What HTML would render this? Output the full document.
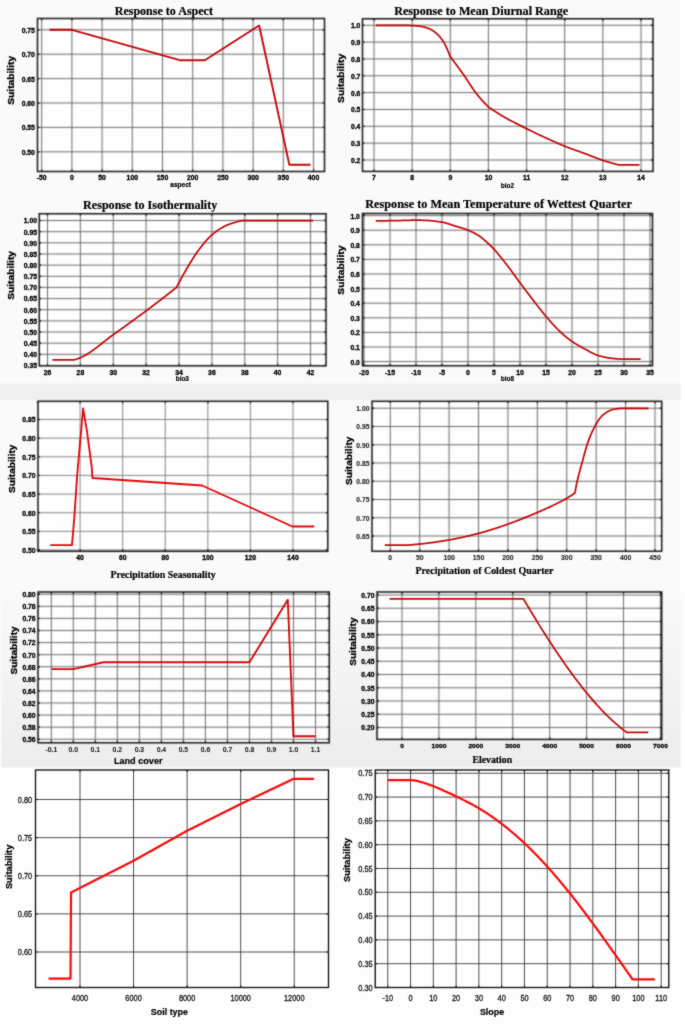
<!DOCTYPE html>
<html><head><meta charset="utf-8"><title>Response curves</title>
<style>html,body{margin:0;padding:0;background:#fafafa;} body{width:685px;height:1024px;overflow:hidden;} svg{display:block;}</style>
</head><body><div id="w">
<svg width="685" height="1024" viewBox="0 0 685 1024">
<defs><filter id="bl" x="0" y="0" width="685" height="1024" filterUnits="userSpaceOnUse" color-interpolation-filters="sRGB"><feConvolveMatrix order="3" kernelMatrix="1 2 1 2 8 2 1 2 1" divisor="20" edgeMode="duplicate"/></filter><filter id="bl2" x="0" y="0" width="685" height="1024" filterUnits="userSpaceOnUse" color-interpolation-filters="sRGB"><feConvolveMatrix order="3" kernelMatrix="1 2 1 2 20 2 1 2 1" divisor="32" edgeMode="duplicate"/></filter></defs>
<g filter="url(#bl)">
<rect x="0" y="0" width="685" height="1024" fill="#fafafa"/>
<rect x="680.5" y="0" width="5" height="1024" fill="#fdfdfd"/>
<rect x="0" y="0" width="1.5" height="767" fill="#fbfbfb"/>
<rect x="0" y="383.5" width="680.5" height="16.5" fill="#f0f0f0"/>
<linearGradient id="g4" x1="0" y1="0" x2="0" y2="1"><stop offset="0" stop-color="#fafafa"/><stop offset="0.45" stop-color="#f4f4f4"/><stop offset="1" stop-color="#ededed"/></linearGradient>
<rect x="1.5" y="582" width="679" height="185.5" fill="url(#g4)"/>
<rect x="0" y="767.5" width="685" height="256.5" fill="#fdfdfd"/>
<rect x="37.50" y="18.50" width="287.00" height="153.00" fill="#fefefe"/>
<line x1="41.70" y1="18.50" x2="41.70" y2="171.50" stroke="#6a6a6a" stroke-width="1.0"/>
<line x1="71.90" y1="18.50" x2="71.90" y2="171.50" stroke="#6a6a6a" stroke-width="1.0"/>
<line x1="102.10" y1="18.50" x2="102.10" y2="171.50" stroke="#6a6a6a" stroke-width="1.0"/>
<line x1="132.30" y1="18.50" x2="132.30" y2="171.50" stroke="#6a6a6a" stroke-width="1.0"/>
<line x1="162.50" y1="18.50" x2="162.50" y2="171.50" stroke="#6a6a6a" stroke-width="1.0"/>
<line x1="192.70" y1="18.50" x2="192.70" y2="171.50" stroke="#6a6a6a" stroke-width="1.0"/>
<line x1="222.90" y1="18.50" x2="222.90" y2="171.50" stroke="#6a6a6a" stroke-width="1.0"/>
<line x1="253.10" y1="18.50" x2="253.10" y2="171.50" stroke="#6a6a6a" stroke-width="1.0"/>
<line x1="283.30" y1="18.50" x2="283.30" y2="171.50" stroke="#6a6a6a" stroke-width="1.0"/>
<line x1="313.50" y1="18.50" x2="313.50" y2="171.50" stroke="#6a6a6a" stroke-width="1.0"/>
<line x1="37.50" y1="151.80" x2="324.50" y2="151.80" stroke="#6a6a6a" stroke-width="1.0"/>
<line x1="37.50" y1="127.40" x2="324.50" y2="127.40" stroke="#6a6a6a" stroke-width="1.0"/>
<line x1="37.50" y1="103.00" x2="324.50" y2="103.00" stroke="#6a6a6a" stroke-width="1.0"/>
<line x1="37.50" y1="78.60" x2="324.50" y2="78.60" stroke="#6a6a6a" stroke-width="1.0"/>
<line x1="37.50" y1="54.20" x2="324.50" y2="54.20" stroke="#6a6a6a" stroke-width="1.0"/>
<line x1="37.50" y1="29.80" x2="324.50" y2="29.80" stroke="#6a6a6a" stroke-width="1.0"/>
<rect x="37.50" y="18.50" width="287.00" height="153.00" fill="none" stroke="#141414" stroke-width="1.5"/>
<line x1="41.70" y1="171.50" x2="41.70" y2="169.50" stroke="#141414" stroke-width="1.3"/>
<line x1="41.70" y1="18.50" x2="41.70" y2="20.50" stroke="#141414" stroke-width="1.3"/>
<line x1="71.90" y1="171.50" x2="71.90" y2="169.50" stroke="#141414" stroke-width="1.3"/>
<line x1="71.90" y1="18.50" x2="71.90" y2="20.50" stroke="#141414" stroke-width="1.3"/>
<line x1="102.10" y1="171.50" x2="102.10" y2="169.50" stroke="#141414" stroke-width="1.3"/>
<line x1="102.10" y1="18.50" x2="102.10" y2="20.50" stroke="#141414" stroke-width="1.3"/>
<line x1="132.30" y1="171.50" x2="132.30" y2="169.50" stroke="#141414" stroke-width="1.3"/>
<line x1="132.30" y1="18.50" x2="132.30" y2="20.50" stroke="#141414" stroke-width="1.3"/>
<line x1="162.50" y1="171.50" x2="162.50" y2="169.50" stroke="#141414" stroke-width="1.3"/>
<line x1="162.50" y1="18.50" x2="162.50" y2="20.50" stroke="#141414" stroke-width="1.3"/>
<line x1="192.70" y1="171.50" x2="192.70" y2="169.50" stroke="#141414" stroke-width="1.3"/>
<line x1="192.70" y1="18.50" x2="192.70" y2="20.50" stroke="#141414" stroke-width="1.3"/>
<line x1="222.90" y1="171.50" x2="222.90" y2="169.50" stroke="#141414" stroke-width="1.3"/>
<line x1="222.90" y1="18.50" x2="222.90" y2="20.50" stroke="#141414" stroke-width="1.3"/>
<line x1="253.10" y1="171.50" x2="253.10" y2="169.50" stroke="#141414" stroke-width="1.3"/>
<line x1="253.10" y1="18.50" x2="253.10" y2="20.50" stroke="#141414" stroke-width="1.3"/>
<line x1="283.30" y1="171.50" x2="283.30" y2="169.50" stroke="#141414" stroke-width="1.3"/>
<line x1="283.30" y1="18.50" x2="283.30" y2="20.50" stroke="#141414" stroke-width="1.3"/>
<line x1="313.50" y1="171.50" x2="313.50" y2="169.50" stroke="#141414" stroke-width="1.3"/>
<line x1="313.50" y1="18.50" x2="313.50" y2="20.50" stroke="#141414" stroke-width="1.3"/>
<line x1="37.50" y1="151.80" x2="39.50" y2="151.80" stroke="#141414" stroke-width="1.3"/>
<line x1="324.50" y1="151.80" x2="322.50" y2="151.80" stroke="#141414" stroke-width="1.3"/>
<line x1="37.50" y1="127.40" x2="39.50" y2="127.40" stroke="#141414" stroke-width="1.3"/>
<line x1="324.50" y1="127.40" x2="322.50" y2="127.40" stroke="#141414" stroke-width="1.3"/>
<line x1="37.50" y1="103.00" x2="39.50" y2="103.00" stroke="#141414" stroke-width="1.3"/>
<line x1="324.50" y1="103.00" x2="322.50" y2="103.00" stroke="#141414" stroke-width="1.3"/>
<line x1="37.50" y1="78.60" x2="39.50" y2="78.60" stroke="#141414" stroke-width="1.3"/>
<line x1="324.50" y1="78.60" x2="322.50" y2="78.60" stroke="#141414" stroke-width="1.3"/>
<line x1="37.50" y1="54.20" x2="39.50" y2="54.20" stroke="#141414" stroke-width="1.3"/>
<line x1="324.50" y1="54.20" x2="322.50" y2="54.20" stroke="#141414" stroke-width="1.3"/>
<line x1="37.50" y1="29.80" x2="39.50" y2="29.80" stroke="#141414" stroke-width="1.3"/>
<line x1="324.50" y1="29.80" x2="322.50" y2="29.80" stroke="#141414" stroke-width="1.3"/>
<rect x="362.50" y="18.75" width="290.50" height="152.65" fill="#fefefe"/>
<line x1="374.00" y1="18.75" x2="374.00" y2="171.40" stroke="#6a6a6a" stroke-width="1.0"/>
<line x1="412.14" y1="18.75" x2="412.14" y2="171.40" stroke="#6a6a6a" stroke-width="1.0"/>
<line x1="450.29" y1="18.75" x2="450.29" y2="171.40" stroke="#6a6a6a" stroke-width="1.0"/>
<line x1="488.43" y1="18.75" x2="488.43" y2="171.40" stroke="#6a6a6a" stroke-width="1.0"/>
<line x1="526.57" y1="18.75" x2="526.57" y2="171.40" stroke="#6a6a6a" stroke-width="1.0"/>
<line x1="564.71" y1="18.75" x2="564.71" y2="171.40" stroke="#6a6a6a" stroke-width="1.0"/>
<line x1="602.86" y1="18.75" x2="602.86" y2="171.40" stroke="#6a6a6a" stroke-width="1.0"/>
<line x1="641.00" y1="18.75" x2="641.00" y2="171.40" stroke="#6a6a6a" stroke-width="1.0"/>
<line x1="362.50" y1="160.00" x2="653.00" y2="160.00" stroke="#6a6a6a" stroke-width="1.0"/>
<line x1="362.50" y1="143.16" x2="653.00" y2="143.16" stroke="#6a6a6a" stroke-width="1.0"/>
<line x1="362.50" y1="126.31" x2="653.00" y2="126.31" stroke="#6a6a6a" stroke-width="1.0"/>
<line x1="362.50" y1="109.47" x2="653.00" y2="109.47" stroke="#6a6a6a" stroke-width="1.0"/>
<line x1="362.50" y1="92.62" x2="653.00" y2="92.62" stroke="#6a6a6a" stroke-width="1.0"/>
<line x1="362.50" y1="75.78" x2="653.00" y2="75.78" stroke="#6a6a6a" stroke-width="1.0"/>
<line x1="362.50" y1="58.94" x2="653.00" y2="58.94" stroke="#6a6a6a" stroke-width="1.0"/>
<line x1="362.50" y1="42.09" x2="653.00" y2="42.09" stroke="#6a6a6a" stroke-width="1.0"/>
<line x1="362.50" y1="25.25" x2="653.00" y2="25.25" stroke="#6a6a6a" stroke-width="1.0"/>
<rect x="362.50" y="18.75" width="290.50" height="152.65" fill="none" stroke="#141414" stroke-width="1.5"/>
<line x1="374.00" y1="171.40" x2="374.00" y2="169.40" stroke="#141414" stroke-width="1.3"/>
<line x1="374.00" y1="18.75" x2="374.00" y2="20.75" stroke="#141414" stroke-width="1.3"/>
<line x1="412.14" y1="171.40" x2="412.14" y2="169.40" stroke="#141414" stroke-width="1.3"/>
<line x1="412.14" y1="18.75" x2="412.14" y2="20.75" stroke="#141414" stroke-width="1.3"/>
<line x1="450.29" y1="171.40" x2="450.29" y2="169.40" stroke="#141414" stroke-width="1.3"/>
<line x1="450.29" y1="18.75" x2="450.29" y2="20.75" stroke="#141414" stroke-width="1.3"/>
<line x1="488.43" y1="171.40" x2="488.43" y2="169.40" stroke="#141414" stroke-width="1.3"/>
<line x1="488.43" y1="18.75" x2="488.43" y2="20.75" stroke="#141414" stroke-width="1.3"/>
<line x1="526.57" y1="171.40" x2="526.57" y2="169.40" stroke="#141414" stroke-width="1.3"/>
<line x1="526.57" y1="18.75" x2="526.57" y2="20.75" stroke="#141414" stroke-width="1.3"/>
<line x1="564.71" y1="171.40" x2="564.71" y2="169.40" stroke="#141414" stroke-width="1.3"/>
<line x1="564.71" y1="18.75" x2="564.71" y2="20.75" stroke="#141414" stroke-width="1.3"/>
<line x1="602.86" y1="171.40" x2="602.86" y2="169.40" stroke="#141414" stroke-width="1.3"/>
<line x1="602.86" y1="18.75" x2="602.86" y2="20.75" stroke="#141414" stroke-width="1.3"/>
<line x1="641.00" y1="171.40" x2="641.00" y2="169.40" stroke="#141414" stroke-width="1.3"/>
<line x1="641.00" y1="18.75" x2="641.00" y2="20.75" stroke="#141414" stroke-width="1.3"/>
<line x1="362.50" y1="160.00" x2="364.50" y2="160.00" stroke="#141414" stroke-width="1.3"/>
<line x1="653.00" y1="160.00" x2="651.00" y2="160.00" stroke="#141414" stroke-width="1.3"/>
<line x1="362.50" y1="143.16" x2="364.50" y2="143.16" stroke="#141414" stroke-width="1.3"/>
<line x1="653.00" y1="143.16" x2="651.00" y2="143.16" stroke="#141414" stroke-width="1.3"/>
<line x1="362.50" y1="126.31" x2="364.50" y2="126.31" stroke="#141414" stroke-width="1.3"/>
<line x1="653.00" y1="126.31" x2="651.00" y2="126.31" stroke="#141414" stroke-width="1.3"/>
<line x1="362.50" y1="109.47" x2="364.50" y2="109.47" stroke="#141414" stroke-width="1.3"/>
<line x1="653.00" y1="109.47" x2="651.00" y2="109.47" stroke="#141414" stroke-width="1.3"/>
<line x1="362.50" y1="92.62" x2="364.50" y2="92.62" stroke="#141414" stroke-width="1.3"/>
<line x1="653.00" y1="92.62" x2="651.00" y2="92.62" stroke="#141414" stroke-width="1.3"/>
<line x1="362.50" y1="75.78" x2="364.50" y2="75.78" stroke="#141414" stroke-width="1.3"/>
<line x1="653.00" y1="75.78" x2="651.00" y2="75.78" stroke="#141414" stroke-width="1.3"/>
<line x1="362.50" y1="58.94" x2="364.50" y2="58.94" stroke="#141414" stroke-width="1.3"/>
<line x1="653.00" y1="58.94" x2="651.00" y2="58.94" stroke="#141414" stroke-width="1.3"/>
<line x1="362.50" y1="42.09" x2="364.50" y2="42.09" stroke="#141414" stroke-width="1.3"/>
<line x1="653.00" y1="42.09" x2="651.00" y2="42.09" stroke="#141414" stroke-width="1.3"/>
<line x1="362.50" y1="25.25" x2="364.50" y2="25.25" stroke="#141414" stroke-width="1.3"/>
<line x1="653.00" y1="25.25" x2="651.00" y2="25.25" stroke="#141414" stroke-width="1.3"/>
<rect x="39.25" y="213.75" width="286.75" height="152.05" fill="#fefefe"/>
<line x1="47.50" y1="213.75" x2="47.50" y2="365.80" stroke="#6a6a6a" stroke-width="1.0"/>
<line x1="80.38" y1="213.75" x2="80.38" y2="365.80" stroke="#6a6a6a" stroke-width="1.0"/>
<line x1="113.25" y1="213.75" x2="113.25" y2="365.80" stroke="#6a6a6a" stroke-width="1.0"/>
<line x1="146.12" y1="213.75" x2="146.12" y2="365.80" stroke="#6a6a6a" stroke-width="1.0"/>
<line x1="179.00" y1="213.75" x2="179.00" y2="365.80" stroke="#6a6a6a" stroke-width="1.0"/>
<line x1="211.88" y1="213.75" x2="211.88" y2="365.80" stroke="#6a6a6a" stroke-width="1.0"/>
<line x1="244.75" y1="213.75" x2="244.75" y2="365.80" stroke="#6a6a6a" stroke-width="1.0"/>
<line x1="277.62" y1="213.75" x2="277.62" y2="365.80" stroke="#6a6a6a" stroke-width="1.0"/>
<line x1="310.50" y1="213.75" x2="310.50" y2="365.80" stroke="#6a6a6a" stroke-width="1.0"/>
<line x1="39.25" y1="354.35" x2="326.00" y2="354.35" stroke="#6a6a6a" stroke-width="1.0"/>
<line x1="39.25" y1="343.19" x2="326.00" y2="343.19" stroke="#6a6a6a" stroke-width="1.0"/>
<line x1="39.25" y1="332.04" x2="326.00" y2="332.04" stroke="#6a6a6a" stroke-width="1.0"/>
<line x1="39.25" y1="320.88" x2="326.00" y2="320.88" stroke="#6a6a6a" stroke-width="1.0"/>
<line x1="39.25" y1="309.73" x2="326.00" y2="309.73" stroke="#6a6a6a" stroke-width="1.0"/>
<line x1="39.25" y1="298.58" x2="326.00" y2="298.58" stroke="#6a6a6a" stroke-width="1.0"/>
<line x1="39.25" y1="287.42" x2="326.00" y2="287.42" stroke="#6a6a6a" stroke-width="1.0"/>
<line x1="39.25" y1="276.27" x2="326.00" y2="276.27" stroke="#6a6a6a" stroke-width="1.0"/>
<line x1="39.25" y1="265.12" x2="326.00" y2="265.12" stroke="#6a6a6a" stroke-width="1.0"/>
<line x1="39.25" y1="253.96" x2="326.00" y2="253.96" stroke="#6a6a6a" stroke-width="1.0"/>
<line x1="39.25" y1="242.81" x2="326.00" y2="242.81" stroke="#6a6a6a" stroke-width="1.0"/>
<line x1="39.25" y1="231.65" x2="326.00" y2="231.65" stroke="#6a6a6a" stroke-width="1.0"/>
<line x1="39.25" y1="220.50" x2="326.00" y2="220.50" stroke="#6a6a6a" stroke-width="1.0"/>
<rect x="39.25" y="213.75" width="286.75" height="152.05" fill="none" stroke="#141414" stroke-width="1.5"/>
<line x1="47.50" y1="365.80" x2="47.50" y2="363.80" stroke="#141414" stroke-width="1.3"/>
<line x1="47.50" y1="213.75" x2="47.50" y2="215.75" stroke="#141414" stroke-width="1.3"/>
<line x1="80.38" y1="365.80" x2="80.38" y2="363.80" stroke="#141414" stroke-width="1.3"/>
<line x1="80.38" y1="213.75" x2="80.38" y2="215.75" stroke="#141414" stroke-width="1.3"/>
<line x1="113.25" y1="365.80" x2="113.25" y2="363.80" stroke="#141414" stroke-width="1.3"/>
<line x1="113.25" y1="213.75" x2="113.25" y2="215.75" stroke="#141414" stroke-width="1.3"/>
<line x1="146.12" y1="365.80" x2="146.12" y2="363.80" stroke="#141414" stroke-width="1.3"/>
<line x1="146.12" y1="213.75" x2="146.12" y2="215.75" stroke="#141414" stroke-width="1.3"/>
<line x1="179.00" y1="365.80" x2="179.00" y2="363.80" stroke="#141414" stroke-width="1.3"/>
<line x1="179.00" y1="213.75" x2="179.00" y2="215.75" stroke="#141414" stroke-width="1.3"/>
<line x1="211.88" y1="365.80" x2="211.88" y2="363.80" stroke="#141414" stroke-width="1.3"/>
<line x1="211.88" y1="213.75" x2="211.88" y2="215.75" stroke="#141414" stroke-width="1.3"/>
<line x1="244.75" y1="365.80" x2="244.75" y2="363.80" stroke="#141414" stroke-width="1.3"/>
<line x1="244.75" y1="213.75" x2="244.75" y2="215.75" stroke="#141414" stroke-width="1.3"/>
<line x1="277.62" y1="365.80" x2="277.62" y2="363.80" stroke="#141414" stroke-width="1.3"/>
<line x1="277.62" y1="213.75" x2="277.62" y2="215.75" stroke="#141414" stroke-width="1.3"/>
<line x1="310.50" y1="365.80" x2="310.50" y2="363.80" stroke="#141414" stroke-width="1.3"/>
<line x1="310.50" y1="213.75" x2="310.50" y2="215.75" stroke="#141414" stroke-width="1.3"/>
<line x1="39.25" y1="365.50" x2="41.25" y2="365.50" stroke="#141414" stroke-width="1.3"/>
<line x1="326.00" y1="365.50" x2="324.00" y2="365.50" stroke="#141414" stroke-width="1.3"/>
<line x1="39.25" y1="354.35" x2="41.25" y2="354.35" stroke="#141414" stroke-width="1.3"/>
<line x1="326.00" y1="354.35" x2="324.00" y2="354.35" stroke="#141414" stroke-width="1.3"/>
<line x1="39.25" y1="343.19" x2="41.25" y2="343.19" stroke="#141414" stroke-width="1.3"/>
<line x1="326.00" y1="343.19" x2="324.00" y2="343.19" stroke="#141414" stroke-width="1.3"/>
<line x1="39.25" y1="332.04" x2="41.25" y2="332.04" stroke="#141414" stroke-width="1.3"/>
<line x1="326.00" y1="332.04" x2="324.00" y2="332.04" stroke="#141414" stroke-width="1.3"/>
<line x1="39.25" y1="320.88" x2="41.25" y2="320.88" stroke="#141414" stroke-width="1.3"/>
<line x1="326.00" y1="320.88" x2="324.00" y2="320.88" stroke="#141414" stroke-width="1.3"/>
<line x1="39.25" y1="309.73" x2="41.25" y2="309.73" stroke="#141414" stroke-width="1.3"/>
<line x1="326.00" y1="309.73" x2="324.00" y2="309.73" stroke="#141414" stroke-width="1.3"/>
<line x1="39.25" y1="298.58" x2="41.25" y2="298.58" stroke="#141414" stroke-width="1.3"/>
<line x1="326.00" y1="298.58" x2="324.00" y2="298.58" stroke="#141414" stroke-width="1.3"/>
<line x1="39.25" y1="287.42" x2="41.25" y2="287.42" stroke="#141414" stroke-width="1.3"/>
<line x1="326.00" y1="287.42" x2="324.00" y2="287.42" stroke="#141414" stroke-width="1.3"/>
<line x1="39.25" y1="276.27" x2="41.25" y2="276.27" stroke="#141414" stroke-width="1.3"/>
<line x1="326.00" y1="276.27" x2="324.00" y2="276.27" stroke="#141414" stroke-width="1.3"/>
<line x1="39.25" y1="265.12" x2="41.25" y2="265.12" stroke="#141414" stroke-width="1.3"/>
<line x1="326.00" y1="265.12" x2="324.00" y2="265.12" stroke="#141414" stroke-width="1.3"/>
<line x1="39.25" y1="253.96" x2="41.25" y2="253.96" stroke="#141414" stroke-width="1.3"/>
<line x1="326.00" y1="253.96" x2="324.00" y2="253.96" stroke="#141414" stroke-width="1.3"/>
<line x1="39.25" y1="242.81" x2="41.25" y2="242.81" stroke="#141414" stroke-width="1.3"/>
<line x1="326.00" y1="242.81" x2="324.00" y2="242.81" stroke="#141414" stroke-width="1.3"/>
<line x1="39.25" y1="231.65" x2="41.25" y2="231.65" stroke="#141414" stroke-width="1.3"/>
<line x1="326.00" y1="231.65" x2="324.00" y2="231.65" stroke="#141414" stroke-width="1.3"/>
<line x1="39.25" y1="220.50" x2="41.25" y2="220.50" stroke="#141414" stroke-width="1.3"/>
<line x1="326.00" y1="220.50" x2="324.00" y2="220.50" stroke="#141414" stroke-width="1.3"/>
<rect x="362.50" y="213.50" width="290.00" height="152.25" fill="#fefefe"/>
<line x1="364.00" y1="213.50" x2="364.00" y2="365.75" stroke="#6a6a6a" stroke-width="1.0"/>
<line x1="390.00" y1="213.50" x2="390.00" y2="365.75" stroke="#6a6a6a" stroke-width="1.0"/>
<line x1="416.00" y1="213.50" x2="416.00" y2="365.75" stroke="#6a6a6a" stroke-width="1.0"/>
<line x1="442.00" y1="213.50" x2="442.00" y2="365.75" stroke="#6a6a6a" stroke-width="1.0"/>
<line x1="468.00" y1="213.50" x2="468.00" y2="365.75" stroke="#6a6a6a" stroke-width="1.0"/>
<line x1="494.00" y1="213.50" x2="494.00" y2="365.75" stroke="#6a6a6a" stroke-width="1.0"/>
<line x1="520.00" y1="213.50" x2="520.00" y2="365.75" stroke="#6a6a6a" stroke-width="1.0"/>
<line x1="546.00" y1="213.50" x2="546.00" y2="365.75" stroke="#6a6a6a" stroke-width="1.0"/>
<line x1="572.00" y1="213.50" x2="572.00" y2="365.75" stroke="#6a6a6a" stroke-width="1.0"/>
<line x1="598.00" y1="213.50" x2="598.00" y2="365.75" stroke="#6a6a6a" stroke-width="1.0"/>
<line x1="624.00" y1="213.50" x2="624.00" y2="365.75" stroke="#6a6a6a" stroke-width="1.0"/>
<line x1="650.00" y1="213.50" x2="650.00" y2="365.75" stroke="#6a6a6a" stroke-width="1.0"/>
<line x1="362.50" y1="361.60" x2="652.50" y2="361.60" stroke="#6a6a6a" stroke-width="1.0"/>
<line x1="362.50" y1="347.00" x2="652.50" y2="347.00" stroke="#6a6a6a" stroke-width="1.0"/>
<line x1="362.50" y1="332.40" x2="652.50" y2="332.40" stroke="#6a6a6a" stroke-width="1.0"/>
<line x1="362.50" y1="317.80" x2="652.50" y2="317.80" stroke="#6a6a6a" stroke-width="1.0"/>
<line x1="362.50" y1="303.20" x2="652.50" y2="303.20" stroke="#6a6a6a" stroke-width="1.0"/>
<line x1="362.50" y1="288.60" x2="652.50" y2="288.60" stroke="#6a6a6a" stroke-width="1.0"/>
<line x1="362.50" y1="274.00" x2="652.50" y2="274.00" stroke="#6a6a6a" stroke-width="1.0"/>
<line x1="362.50" y1="259.40" x2="652.50" y2="259.40" stroke="#6a6a6a" stroke-width="1.0"/>
<line x1="362.50" y1="244.80" x2="652.50" y2="244.80" stroke="#6a6a6a" stroke-width="1.0"/>
<line x1="362.50" y1="230.20" x2="652.50" y2="230.20" stroke="#6a6a6a" stroke-width="1.0"/>
<line x1="362.50" y1="215.60" x2="652.50" y2="215.60" stroke="#6a6a6a" stroke-width="1.0"/>
<rect x="362.50" y="213.50" width="290.00" height="152.25" fill="none" stroke="#141414" stroke-width="1.5"/>
<line x1="364.00" y1="365.75" x2="364.00" y2="363.75" stroke="#141414" stroke-width="1.3"/>
<line x1="364.00" y1="213.50" x2="364.00" y2="215.50" stroke="#141414" stroke-width="1.3"/>
<line x1="390.00" y1="365.75" x2="390.00" y2="363.75" stroke="#141414" stroke-width="1.3"/>
<line x1="390.00" y1="213.50" x2="390.00" y2="215.50" stroke="#141414" stroke-width="1.3"/>
<line x1="416.00" y1="365.75" x2="416.00" y2="363.75" stroke="#141414" stroke-width="1.3"/>
<line x1="416.00" y1="213.50" x2="416.00" y2="215.50" stroke="#141414" stroke-width="1.3"/>
<line x1="442.00" y1="365.75" x2="442.00" y2="363.75" stroke="#141414" stroke-width="1.3"/>
<line x1="442.00" y1="213.50" x2="442.00" y2="215.50" stroke="#141414" stroke-width="1.3"/>
<line x1="468.00" y1="365.75" x2="468.00" y2="363.75" stroke="#141414" stroke-width="1.3"/>
<line x1="468.00" y1="213.50" x2="468.00" y2="215.50" stroke="#141414" stroke-width="1.3"/>
<line x1="494.00" y1="365.75" x2="494.00" y2="363.75" stroke="#141414" stroke-width="1.3"/>
<line x1="494.00" y1="213.50" x2="494.00" y2="215.50" stroke="#141414" stroke-width="1.3"/>
<line x1="520.00" y1="365.75" x2="520.00" y2="363.75" stroke="#141414" stroke-width="1.3"/>
<line x1="520.00" y1="213.50" x2="520.00" y2="215.50" stroke="#141414" stroke-width="1.3"/>
<line x1="546.00" y1="365.75" x2="546.00" y2="363.75" stroke="#141414" stroke-width="1.3"/>
<line x1="546.00" y1="213.50" x2="546.00" y2="215.50" stroke="#141414" stroke-width="1.3"/>
<line x1="572.00" y1="365.75" x2="572.00" y2="363.75" stroke="#141414" stroke-width="1.3"/>
<line x1="572.00" y1="213.50" x2="572.00" y2="215.50" stroke="#141414" stroke-width="1.3"/>
<line x1="598.00" y1="365.75" x2="598.00" y2="363.75" stroke="#141414" stroke-width="1.3"/>
<line x1="598.00" y1="213.50" x2="598.00" y2="215.50" stroke="#141414" stroke-width="1.3"/>
<line x1="624.00" y1="365.75" x2="624.00" y2="363.75" stroke="#141414" stroke-width="1.3"/>
<line x1="624.00" y1="213.50" x2="624.00" y2="215.50" stroke="#141414" stroke-width="1.3"/>
<line x1="650.00" y1="365.75" x2="650.00" y2="363.75" stroke="#141414" stroke-width="1.3"/>
<line x1="650.00" y1="213.50" x2="650.00" y2="215.50" stroke="#141414" stroke-width="1.3"/>
<line x1="362.50" y1="361.60" x2="364.50" y2="361.60" stroke="#141414" stroke-width="1.3"/>
<line x1="652.50" y1="361.60" x2="650.50" y2="361.60" stroke="#141414" stroke-width="1.3"/>
<line x1="362.50" y1="347.00" x2="364.50" y2="347.00" stroke="#141414" stroke-width="1.3"/>
<line x1="652.50" y1="347.00" x2="650.50" y2="347.00" stroke="#141414" stroke-width="1.3"/>
<line x1="362.50" y1="332.40" x2="364.50" y2="332.40" stroke="#141414" stroke-width="1.3"/>
<line x1="652.50" y1="332.40" x2="650.50" y2="332.40" stroke="#141414" stroke-width="1.3"/>
<line x1="362.50" y1="317.80" x2="364.50" y2="317.80" stroke="#141414" stroke-width="1.3"/>
<line x1="652.50" y1="317.80" x2="650.50" y2="317.80" stroke="#141414" stroke-width="1.3"/>
<line x1="362.50" y1="303.20" x2="364.50" y2="303.20" stroke="#141414" stroke-width="1.3"/>
<line x1="652.50" y1="303.20" x2="650.50" y2="303.20" stroke="#141414" stroke-width="1.3"/>
<line x1="362.50" y1="288.60" x2="364.50" y2="288.60" stroke="#141414" stroke-width="1.3"/>
<line x1="652.50" y1="288.60" x2="650.50" y2="288.60" stroke="#141414" stroke-width="1.3"/>
<line x1="362.50" y1="274.00" x2="364.50" y2="274.00" stroke="#141414" stroke-width="1.3"/>
<line x1="652.50" y1="274.00" x2="650.50" y2="274.00" stroke="#141414" stroke-width="1.3"/>
<line x1="362.50" y1="259.40" x2="364.50" y2="259.40" stroke="#141414" stroke-width="1.3"/>
<line x1="652.50" y1="259.40" x2="650.50" y2="259.40" stroke="#141414" stroke-width="1.3"/>
<line x1="362.50" y1="244.80" x2="364.50" y2="244.80" stroke="#141414" stroke-width="1.3"/>
<line x1="652.50" y1="244.80" x2="650.50" y2="244.80" stroke="#141414" stroke-width="1.3"/>
<line x1="362.50" y1="230.20" x2="364.50" y2="230.20" stroke="#141414" stroke-width="1.3"/>
<line x1="652.50" y1="230.20" x2="650.50" y2="230.20" stroke="#141414" stroke-width="1.3"/>
<line x1="362.50" y1="215.60" x2="364.50" y2="215.60" stroke="#141414" stroke-width="1.3"/>
<line x1="652.50" y1="215.60" x2="650.50" y2="215.60" stroke="#141414" stroke-width="1.3"/>
<rect x="38.00" y="401.30" width="289.75" height="150.00" fill="#fefefe"/>
<line x1="80.10" y1="401.30" x2="80.10" y2="551.30" stroke="#858585" stroke-width="1.0"/>
<line x1="122.68" y1="401.30" x2="122.68" y2="551.30" stroke="#858585" stroke-width="1.0"/>
<line x1="165.26" y1="401.30" x2="165.26" y2="551.30" stroke="#858585" stroke-width="1.0"/>
<line x1="207.84" y1="401.30" x2="207.84" y2="551.30" stroke="#858585" stroke-width="1.0"/>
<line x1="250.42" y1="401.30" x2="250.42" y2="551.30" stroke="#858585" stroke-width="1.0"/>
<line x1="293.00" y1="401.30" x2="293.00" y2="551.30" stroke="#858585" stroke-width="1.0"/>
<line x1="38.00" y1="550.00" x2="327.75" y2="550.00" stroke="#858585" stroke-width="1.0"/>
<line x1="38.00" y1="531.36" x2="327.75" y2="531.36" stroke="#858585" stroke-width="1.0"/>
<line x1="38.00" y1="512.71" x2="327.75" y2="512.71" stroke="#858585" stroke-width="1.0"/>
<line x1="38.00" y1="494.07" x2="327.75" y2="494.07" stroke="#858585" stroke-width="1.0"/>
<line x1="38.00" y1="475.43" x2="327.75" y2="475.43" stroke="#858585" stroke-width="1.0"/>
<line x1="38.00" y1="456.79" x2="327.75" y2="456.79" stroke="#858585" stroke-width="1.0"/>
<line x1="38.00" y1="438.14" x2="327.75" y2="438.14" stroke="#858585" stroke-width="1.0"/>
<line x1="38.00" y1="419.50" x2="327.75" y2="419.50" stroke="#858585" stroke-width="1.0"/>
<rect x="38.00" y="401.30" width="289.75" height="150.00" fill="none" stroke="#141414" stroke-width="1.5"/>
<line x1="37.52" y1="551.30" x2="37.52" y2="549.30" stroke="#141414" stroke-width="1.3"/>
<line x1="37.52" y1="401.30" x2="37.52" y2="403.30" stroke="#141414" stroke-width="1.3"/>
<line x1="80.10" y1="551.30" x2="80.10" y2="549.30" stroke="#141414" stroke-width="1.3"/>
<line x1="80.10" y1="401.30" x2="80.10" y2="403.30" stroke="#141414" stroke-width="1.3"/>
<line x1="122.68" y1="551.30" x2="122.68" y2="549.30" stroke="#141414" stroke-width="1.3"/>
<line x1="122.68" y1="401.30" x2="122.68" y2="403.30" stroke="#141414" stroke-width="1.3"/>
<line x1="165.26" y1="551.30" x2="165.26" y2="549.30" stroke="#141414" stroke-width="1.3"/>
<line x1="165.26" y1="401.30" x2="165.26" y2="403.30" stroke="#141414" stroke-width="1.3"/>
<line x1="207.84" y1="551.30" x2="207.84" y2="549.30" stroke="#141414" stroke-width="1.3"/>
<line x1="207.84" y1="401.30" x2="207.84" y2="403.30" stroke="#141414" stroke-width="1.3"/>
<line x1="250.42" y1="551.30" x2="250.42" y2="549.30" stroke="#141414" stroke-width="1.3"/>
<line x1="250.42" y1="401.30" x2="250.42" y2="403.30" stroke="#141414" stroke-width="1.3"/>
<line x1="293.00" y1="551.30" x2="293.00" y2="549.30" stroke="#141414" stroke-width="1.3"/>
<line x1="293.00" y1="401.30" x2="293.00" y2="403.30" stroke="#141414" stroke-width="1.3"/>
<line x1="38.00" y1="550.00" x2="40.00" y2="550.00" stroke="#141414" stroke-width="1.3"/>
<line x1="327.75" y1="550.00" x2="325.75" y2="550.00" stroke="#141414" stroke-width="1.3"/>
<line x1="38.00" y1="531.36" x2="40.00" y2="531.36" stroke="#141414" stroke-width="1.3"/>
<line x1="327.75" y1="531.36" x2="325.75" y2="531.36" stroke="#141414" stroke-width="1.3"/>
<line x1="38.00" y1="512.71" x2="40.00" y2="512.71" stroke="#141414" stroke-width="1.3"/>
<line x1="327.75" y1="512.71" x2="325.75" y2="512.71" stroke="#141414" stroke-width="1.3"/>
<line x1="38.00" y1="494.07" x2="40.00" y2="494.07" stroke="#141414" stroke-width="1.3"/>
<line x1="327.75" y1="494.07" x2="325.75" y2="494.07" stroke="#141414" stroke-width="1.3"/>
<line x1="38.00" y1="475.43" x2="40.00" y2="475.43" stroke="#141414" stroke-width="1.3"/>
<line x1="327.75" y1="475.43" x2="325.75" y2="475.43" stroke="#141414" stroke-width="1.3"/>
<line x1="38.00" y1="456.79" x2="40.00" y2="456.79" stroke="#141414" stroke-width="1.3"/>
<line x1="327.75" y1="456.79" x2="325.75" y2="456.79" stroke="#141414" stroke-width="1.3"/>
<line x1="38.00" y1="438.14" x2="40.00" y2="438.14" stroke="#141414" stroke-width="1.3"/>
<line x1="327.75" y1="438.14" x2="325.75" y2="438.14" stroke="#141414" stroke-width="1.3"/>
<line x1="38.00" y1="419.50" x2="40.00" y2="419.50" stroke="#141414" stroke-width="1.3"/>
<line x1="327.75" y1="419.50" x2="325.75" y2="419.50" stroke="#141414" stroke-width="1.3"/>
<rect x="372.00" y="401.30" width="289.70" height="149.95" fill="#fefefe"/>
<line x1="390.25" y1="401.30" x2="390.25" y2="551.25" stroke="#6a6a6a" stroke-width="1.0"/>
<line x1="419.67" y1="401.30" x2="419.67" y2="551.25" stroke="#6a6a6a" stroke-width="1.0"/>
<line x1="449.08" y1="401.30" x2="449.08" y2="551.25" stroke="#6a6a6a" stroke-width="1.0"/>
<line x1="478.50" y1="401.30" x2="478.50" y2="551.25" stroke="#6a6a6a" stroke-width="1.0"/>
<line x1="507.92" y1="401.30" x2="507.92" y2="551.25" stroke="#6a6a6a" stroke-width="1.0"/>
<line x1="537.33" y1="401.30" x2="537.33" y2="551.25" stroke="#6a6a6a" stroke-width="1.0"/>
<line x1="566.75" y1="401.30" x2="566.75" y2="551.25" stroke="#6a6a6a" stroke-width="1.0"/>
<line x1="596.17" y1="401.30" x2="596.17" y2="551.25" stroke="#6a6a6a" stroke-width="1.0"/>
<line x1="625.58" y1="401.30" x2="625.58" y2="551.25" stroke="#6a6a6a" stroke-width="1.0"/>
<line x1="655.00" y1="401.30" x2="655.00" y2="551.25" stroke="#6a6a6a" stroke-width="1.0"/>
<line x1="372.00" y1="536.00" x2="661.70" y2="536.00" stroke="#6a6a6a" stroke-width="1.0"/>
<line x1="372.00" y1="517.75" x2="661.70" y2="517.75" stroke="#6a6a6a" stroke-width="1.0"/>
<line x1="372.00" y1="499.50" x2="661.70" y2="499.50" stroke="#6a6a6a" stroke-width="1.0"/>
<line x1="372.00" y1="481.25" x2="661.70" y2="481.25" stroke="#6a6a6a" stroke-width="1.0"/>
<line x1="372.00" y1="463.00" x2="661.70" y2="463.00" stroke="#6a6a6a" stroke-width="1.0"/>
<line x1="372.00" y1="444.75" x2="661.70" y2="444.75" stroke="#6a6a6a" stroke-width="1.0"/>
<line x1="372.00" y1="426.50" x2="661.70" y2="426.50" stroke="#6a6a6a" stroke-width="1.0"/>
<line x1="372.00" y1="408.25" x2="661.70" y2="408.25" stroke="#6a6a6a" stroke-width="1.0"/>
<rect x="372.00" y="401.30" width="289.70" height="149.95" fill="none" stroke="#141414" stroke-width="1.5"/>
<line x1="390.25" y1="551.25" x2="390.25" y2="549.25" stroke="#141414" stroke-width="1.3"/>
<line x1="390.25" y1="401.30" x2="390.25" y2="403.30" stroke="#141414" stroke-width="1.3"/>
<line x1="419.67" y1="551.25" x2="419.67" y2="549.25" stroke="#141414" stroke-width="1.3"/>
<line x1="419.67" y1="401.30" x2="419.67" y2="403.30" stroke="#141414" stroke-width="1.3"/>
<line x1="449.08" y1="551.25" x2="449.08" y2="549.25" stroke="#141414" stroke-width="1.3"/>
<line x1="449.08" y1="401.30" x2="449.08" y2="403.30" stroke="#141414" stroke-width="1.3"/>
<line x1="478.50" y1="551.25" x2="478.50" y2="549.25" stroke="#141414" stroke-width="1.3"/>
<line x1="478.50" y1="401.30" x2="478.50" y2="403.30" stroke="#141414" stroke-width="1.3"/>
<line x1="507.92" y1="551.25" x2="507.92" y2="549.25" stroke="#141414" stroke-width="1.3"/>
<line x1="507.92" y1="401.30" x2="507.92" y2="403.30" stroke="#141414" stroke-width="1.3"/>
<line x1="537.33" y1="551.25" x2="537.33" y2="549.25" stroke="#141414" stroke-width="1.3"/>
<line x1="537.33" y1="401.30" x2="537.33" y2="403.30" stroke="#141414" stroke-width="1.3"/>
<line x1="566.75" y1="551.25" x2="566.75" y2="549.25" stroke="#141414" stroke-width="1.3"/>
<line x1="566.75" y1="401.30" x2="566.75" y2="403.30" stroke="#141414" stroke-width="1.3"/>
<line x1="596.17" y1="551.25" x2="596.17" y2="549.25" stroke="#141414" stroke-width="1.3"/>
<line x1="596.17" y1="401.30" x2="596.17" y2="403.30" stroke="#141414" stroke-width="1.3"/>
<line x1="625.58" y1="551.25" x2="625.58" y2="549.25" stroke="#141414" stroke-width="1.3"/>
<line x1="625.58" y1="401.30" x2="625.58" y2="403.30" stroke="#141414" stroke-width="1.3"/>
<line x1="655.00" y1="551.25" x2="655.00" y2="549.25" stroke="#141414" stroke-width="1.3"/>
<line x1="655.00" y1="401.30" x2="655.00" y2="403.30" stroke="#141414" stroke-width="1.3"/>
<line x1="372.00" y1="536.00" x2="374.00" y2="536.00" stroke="#141414" stroke-width="1.3"/>
<line x1="661.70" y1="536.00" x2="659.70" y2="536.00" stroke="#141414" stroke-width="1.3"/>
<line x1="372.00" y1="517.75" x2="374.00" y2="517.75" stroke="#141414" stroke-width="1.3"/>
<line x1="661.70" y1="517.75" x2="659.70" y2="517.75" stroke="#141414" stroke-width="1.3"/>
<line x1="372.00" y1="499.50" x2="374.00" y2="499.50" stroke="#141414" stroke-width="1.3"/>
<line x1="661.70" y1="499.50" x2="659.70" y2="499.50" stroke="#141414" stroke-width="1.3"/>
<line x1="372.00" y1="481.25" x2="374.00" y2="481.25" stroke="#141414" stroke-width="1.3"/>
<line x1="661.70" y1="481.25" x2="659.70" y2="481.25" stroke="#141414" stroke-width="1.3"/>
<line x1="372.00" y1="463.00" x2="374.00" y2="463.00" stroke="#141414" stroke-width="1.3"/>
<line x1="661.70" y1="463.00" x2="659.70" y2="463.00" stroke="#141414" stroke-width="1.3"/>
<line x1="372.00" y1="444.75" x2="374.00" y2="444.75" stroke="#141414" stroke-width="1.3"/>
<line x1="661.70" y1="444.75" x2="659.70" y2="444.75" stroke="#141414" stroke-width="1.3"/>
<line x1="372.00" y1="426.50" x2="374.00" y2="426.50" stroke="#141414" stroke-width="1.3"/>
<line x1="661.70" y1="426.50" x2="659.70" y2="426.50" stroke="#141414" stroke-width="1.3"/>
<line x1="372.00" y1="408.25" x2="374.00" y2="408.25" stroke="#141414" stroke-width="1.3"/>
<line x1="661.70" y1="408.25" x2="659.70" y2="408.25" stroke="#141414" stroke-width="1.3"/>
<rect x="38.00" y="592.00" width="291.25" height="150.75" fill="#fefefe"/>
<line x1="51.30" y1="592.00" x2="51.30" y2="742.75" stroke="#6a6a6a" stroke-width="1.0"/>
<line x1="73.32" y1="592.00" x2="73.32" y2="742.75" stroke="#6a6a6a" stroke-width="1.0"/>
<line x1="95.34" y1="592.00" x2="95.34" y2="742.75" stroke="#6a6a6a" stroke-width="1.0"/>
<line x1="117.35" y1="592.00" x2="117.35" y2="742.75" stroke="#6a6a6a" stroke-width="1.0"/>
<line x1="139.37" y1="592.00" x2="139.37" y2="742.75" stroke="#6a6a6a" stroke-width="1.0"/>
<line x1="161.39" y1="592.00" x2="161.39" y2="742.75" stroke="#6a6a6a" stroke-width="1.0"/>
<line x1="183.41" y1="592.00" x2="183.41" y2="742.75" stroke="#6a6a6a" stroke-width="1.0"/>
<line x1="205.43" y1="592.00" x2="205.43" y2="742.75" stroke="#6a6a6a" stroke-width="1.0"/>
<line x1="227.45" y1="592.00" x2="227.45" y2="742.75" stroke="#6a6a6a" stroke-width="1.0"/>
<line x1="249.46" y1="592.00" x2="249.46" y2="742.75" stroke="#6a6a6a" stroke-width="1.0"/>
<line x1="271.48" y1="592.00" x2="271.48" y2="742.75" stroke="#6a6a6a" stroke-width="1.0"/>
<line x1="293.50" y1="592.00" x2="293.50" y2="742.75" stroke="#6a6a6a" stroke-width="1.0"/>
<line x1="315.52" y1="592.00" x2="315.52" y2="742.75" stroke="#6a6a6a" stroke-width="1.0"/>
<line x1="38.00" y1="739.25" x2="329.25" y2="739.25" stroke="#6a6a6a" stroke-width="1.0"/>
<line x1="38.00" y1="727.17" x2="329.25" y2="727.17" stroke="#6a6a6a" stroke-width="1.0"/>
<line x1="38.00" y1="715.08" x2="329.25" y2="715.08" stroke="#6a6a6a" stroke-width="1.0"/>
<line x1="38.00" y1="703.00" x2="329.25" y2="703.00" stroke="#6a6a6a" stroke-width="1.0"/>
<line x1="38.00" y1="690.92" x2="329.25" y2="690.92" stroke="#6a6a6a" stroke-width="1.0"/>
<line x1="38.00" y1="678.83" x2="329.25" y2="678.83" stroke="#6a6a6a" stroke-width="1.0"/>
<line x1="38.00" y1="666.75" x2="329.25" y2="666.75" stroke="#6a6a6a" stroke-width="1.0"/>
<line x1="38.00" y1="654.67" x2="329.25" y2="654.67" stroke="#6a6a6a" stroke-width="1.0"/>
<line x1="38.00" y1="642.58" x2="329.25" y2="642.58" stroke="#6a6a6a" stroke-width="1.0"/>
<line x1="38.00" y1="630.50" x2="329.25" y2="630.50" stroke="#6a6a6a" stroke-width="1.0"/>
<line x1="38.00" y1="618.42" x2="329.25" y2="618.42" stroke="#6a6a6a" stroke-width="1.0"/>
<line x1="38.00" y1="606.33" x2="329.25" y2="606.33" stroke="#6a6a6a" stroke-width="1.0"/>
<line x1="38.00" y1="594.25" x2="329.25" y2="594.25" stroke="#6a6a6a" stroke-width="1.0"/>
<rect x="38.00" y="592.00" width="291.25" height="150.75" fill="none" stroke="#141414" stroke-width="1.5"/>
<line x1="51.30" y1="742.75" x2="51.30" y2="740.75" stroke="#141414" stroke-width="1.3"/>
<line x1="51.30" y1="592.00" x2="51.30" y2="594.00" stroke="#141414" stroke-width="1.3"/>
<line x1="73.32" y1="742.75" x2="73.32" y2="740.75" stroke="#141414" stroke-width="1.3"/>
<line x1="73.32" y1="592.00" x2="73.32" y2="594.00" stroke="#141414" stroke-width="1.3"/>
<line x1="95.34" y1="742.75" x2="95.34" y2="740.75" stroke="#141414" stroke-width="1.3"/>
<line x1="95.34" y1="592.00" x2="95.34" y2="594.00" stroke="#141414" stroke-width="1.3"/>
<line x1="117.35" y1="742.75" x2="117.35" y2="740.75" stroke="#141414" stroke-width="1.3"/>
<line x1="117.35" y1="592.00" x2="117.35" y2="594.00" stroke="#141414" stroke-width="1.3"/>
<line x1="139.37" y1="742.75" x2="139.37" y2="740.75" stroke="#141414" stroke-width="1.3"/>
<line x1="139.37" y1="592.00" x2="139.37" y2="594.00" stroke="#141414" stroke-width="1.3"/>
<line x1="161.39" y1="742.75" x2="161.39" y2="740.75" stroke="#141414" stroke-width="1.3"/>
<line x1="161.39" y1="592.00" x2="161.39" y2="594.00" stroke="#141414" stroke-width="1.3"/>
<line x1="183.41" y1="742.75" x2="183.41" y2="740.75" stroke="#141414" stroke-width="1.3"/>
<line x1="183.41" y1="592.00" x2="183.41" y2="594.00" stroke="#141414" stroke-width="1.3"/>
<line x1="205.43" y1="742.75" x2="205.43" y2="740.75" stroke="#141414" stroke-width="1.3"/>
<line x1="205.43" y1="592.00" x2="205.43" y2="594.00" stroke="#141414" stroke-width="1.3"/>
<line x1="227.45" y1="742.75" x2="227.45" y2="740.75" stroke="#141414" stroke-width="1.3"/>
<line x1="227.45" y1="592.00" x2="227.45" y2="594.00" stroke="#141414" stroke-width="1.3"/>
<line x1="249.46" y1="742.75" x2="249.46" y2="740.75" stroke="#141414" stroke-width="1.3"/>
<line x1="249.46" y1="592.00" x2="249.46" y2="594.00" stroke="#141414" stroke-width="1.3"/>
<line x1="271.48" y1="742.75" x2="271.48" y2="740.75" stroke="#141414" stroke-width="1.3"/>
<line x1="271.48" y1="592.00" x2="271.48" y2="594.00" stroke="#141414" stroke-width="1.3"/>
<line x1="293.50" y1="742.75" x2="293.50" y2="740.75" stroke="#141414" stroke-width="1.3"/>
<line x1="293.50" y1="592.00" x2="293.50" y2="594.00" stroke="#141414" stroke-width="1.3"/>
<line x1="315.52" y1="742.75" x2="315.52" y2="740.75" stroke="#141414" stroke-width="1.3"/>
<line x1="315.52" y1="592.00" x2="315.52" y2="594.00" stroke="#141414" stroke-width="1.3"/>
<line x1="38.00" y1="739.25" x2="40.00" y2="739.25" stroke="#141414" stroke-width="1.3"/>
<line x1="329.25" y1="739.25" x2="327.25" y2="739.25" stroke="#141414" stroke-width="1.3"/>
<line x1="38.00" y1="727.17" x2="40.00" y2="727.17" stroke="#141414" stroke-width="1.3"/>
<line x1="329.25" y1="727.17" x2="327.25" y2="727.17" stroke="#141414" stroke-width="1.3"/>
<line x1="38.00" y1="715.08" x2="40.00" y2="715.08" stroke="#141414" stroke-width="1.3"/>
<line x1="329.25" y1="715.08" x2="327.25" y2="715.08" stroke="#141414" stroke-width="1.3"/>
<line x1="38.00" y1="703.00" x2="40.00" y2="703.00" stroke="#141414" stroke-width="1.3"/>
<line x1="329.25" y1="703.00" x2="327.25" y2="703.00" stroke="#141414" stroke-width="1.3"/>
<line x1="38.00" y1="690.92" x2="40.00" y2="690.92" stroke="#141414" stroke-width="1.3"/>
<line x1="329.25" y1="690.92" x2="327.25" y2="690.92" stroke="#141414" stroke-width="1.3"/>
<line x1="38.00" y1="678.83" x2="40.00" y2="678.83" stroke="#141414" stroke-width="1.3"/>
<line x1="329.25" y1="678.83" x2="327.25" y2="678.83" stroke="#141414" stroke-width="1.3"/>
<line x1="38.00" y1="666.75" x2="40.00" y2="666.75" stroke="#141414" stroke-width="1.3"/>
<line x1="329.25" y1="666.75" x2="327.25" y2="666.75" stroke="#141414" stroke-width="1.3"/>
<line x1="38.00" y1="654.67" x2="40.00" y2="654.67" stroke="#141414" stroke-width="1.3"/>
<line x1="329.25" y1="654.67" x2="327.25" y2="654.67" stroke="#141414" stroke-width="1.3"/>
<line x1="38.00" y1="642.58" x2="40.00" y2="642.58" stroke="#141414" stroke-width="1.3"/>
<line x1="329.25" y1="642.58" x2="327.25" y2="642.58" stroke="#141414" stroke-width="1.3"/>
<line x1="38.00" y1="630.50" x2="40.00" y2="630.50" stroke="#141414" stroke-width="1.3"/>
<line x1="329.25" y1="630.50" x2="327.25" y2="630.50" stroke="#141414" stroke-width="1.3"/>
<line x1="38.00" y1="618.42" x2="40.00" y2="618.42" stroke="#141414" stroke-width="1.3"/>
<line x1="329.25" y1="618.42" x2="327.25" y2="618.42" stroke="#141414" stroke-width="1.3"/>
<line x1="38.00" y1="606.33" x2="40.00" y2="606.33" stroke="#141414" stroke-width="1.3"/>
<line x1="329.25" y1="606.33" x2="327.25" y2="606.33" stroke="#141414" stroke-width="1.3"/>
<line x1="38.00" y1="594.25" x2="40.00" y2="594.25" stroke="#141414" stroke-width="1.3"/>
<line x1="329.25" y1="594.25" x2="327.25" y2="594.25" stroke="#141414" stroke-width="1.3"/>
<rect x="377.00" y="592.00" width="284.70" height="147.40" fill="#fefefe"/>
<line x1="402.00" y1="592.00" x2="402.00" y2="739.40" stroke="#6a6a6a" stroke-width="1.0"/>
<line x1="438.92" y1="592.00" x2="438.92" y2="739.40" stroke="#6a6a6a" stroke-width="1.0"/>
<line x1="475.83" y1="592.00" x2="475.83" y2="739.40" stroke="#6a6a6a" stroke-width="1.0"/>
<line x1="512.75" y1="592.00" x2="512.75" y2="739.40" stroke="#6a6a6a" stroke-width="1.0"/>
<line x1="549.67" y1="592.00" x2="549.67" y2="739.40" stroke="#6a6a6a" stroke-width="1.0"/>
<line x1="586.58" y1="592.00" x2="586.58" y2="739.40" stroke="#6a6a6a" stroke-width="1.0"/>
<line x1="623.50" y1="592.00" x2="623.50" y2="739.40" stroke="#6a6a6a" stroke-width="1.0"/>
<line x1="660.42" y1="592.00" x2="660.42" y2="739.40" stroke="#6a6a6a" stroke-width="1.0"/>
<line x1="377.00" y1="727.50" x2="661.70" y2="727.50" stroke="#6a6a6a" stroke-width="1.0"/>
<line x1="377.00" y1="714.25" x2="661.70" y2="714.25" stroke="#6a6a6a" stroke-width="1.0"/>
<line x1="377.00" y1="701.00" x2="661.70" y2="701.00" stroke="#6a6a6a" stroke-width="1.0"/>
<line x1="377.00" y1="687.75" x2="661.70" y2="687.75" stroke="#6a6a6a" stroke-width="1.0"/>
<line x1="377.00" y1="674.50" x2="661.70" y2="674.50" stroke="#6a6a6a" stroke-width="1.0"/>
<line x1="377.00" y1="661.25" x2="661.70" y2="661.25" stroke="#6a6a6a" stroke-width="1.0"/>
<line x1="377.00" y1="648.00" x2="661.70" y2="648.00" stroke="#6a6a6a" stroke-width="1.0"/>
<line x1="377.00" y1="634.75" x2="661.70" y2="634.75" stroke="#6a6a6a" stroke-width="1.0"/>
<line x1="377.00" y1="621.50" x2="661.70" y2="621.50" stroke="#6a6a6a" stroke-width="1.0"/>
<line x1="377.00" y1="608.25" x2="661.70" y2="608.25" stroke="#6a6a6a" stroke-width="1.0"/>
<line x1="377.00" y1="595.00" x2="661.70" y2="595.00" stroke="#6a6a6a" stroke-width="1.0"/>
<rect x="377.00" y="592.00" width="284.70" height="147.40" fill="none" stroke="#141414" stroke-width="1.5"/>
<line x1="402.00" y1="739.40" x2="402.00" y2="737.40" stroke="#141414" stroke-width="1.3"/>
<line x1="402.00" y1="592.00" x2="402.00" y2="594.00" stroke="#141414" stroke-width="1.3"/>
<line x1="438.92" y1="739.40" x2="438.92" y2="737.40" stroke="#141414" stroke-width="1.3"/>
<line x1="438.92" y1="592.00" x2="438.92" y2="594.00" stroke="#141414" stroke-width="1.3"/>
<line x1="475.83" y1="739.40" x2="475.83" y2="737.40" stroke="#141414" stroke-width="1.3"/>
<line x1="475.83" y1="592.00" x2="475.83" y2="594.00" stroke="#141414" stroke-width="1.3"/>
<line x1="512.75" y1="739.40" x2="512.75" y2="737.40" stroke="#141414" stroke-width="1.3"/>
<line x1="512.75" y1="592.00" x2="512.75" y2="594.00" stroke="#141414" stroke-width="1.3"/>
<line x1="549.67" y1="739.40" x2="549.67" y2="737.40" stroke="#141414" stroke-width="1.3"/>
<line x1="549.67" y1="592.00" x2="549.67" y2="594.00" stroke="#141414" stroke-width="1.3"/>
<line x1="586.58" y1="739.40" x2="586.58" y2="737.40" stroke="#141414" stroke-width="1.3"/>
<line x1="586.58" y1="592.00" x2="586.58" y2="594.00" stroke="#141414" stroke-width="1.3"/>
<line x1="623.50" y1="739.40" x2="623.50" y2="737.40" stroke="#141414" stroke-width="1.3"/>
<line x1="623.50" y1="592.00" x2="623.50" y2="594.00" stroke="#141414" stroke-width="1.3"/>
<line x1="660.42" y1="739.40" x2="660.42" y2="737.40" stroke="#141414" stroke-width="1.3"/>
<line x1="660.42" y1="592.00" x2="660.42" y2="594.00" stroke="#141414" stroke-width="1.3"/>
<line x1="377.00" y1="727.50" x2="379.00" y2="727.50" stroke="#141414" stroke-width="1.3"/>
<line x1="661.70" y1="727.50" x2="659.70" y2="727.50" stroke="#141414" stroke-width="1.3"/>
<line x1="377.00" y1="714.25" x2="379.00" y2="714.25" stroke="#141414" stroke-width="1.3"/>
<line x1="661.70" y1="714.25" x2="659.70" y2="714.25" stroke="#141414" stroke-width="1.3"/>
<line x1="377.00" y1="701.00" x2="379.00" y2="701.00" stroke="#141414" stroke-width="1.3"/>
<line x1="661.70" y1="701.00" x2="659.70" y2="701.00" stroke="#141414" stroke-width="1.3"/>
<line x1="377.00" y1="687.75" x2="379.00" y2="687.75" stroke="#141414" stroke-width="1.3"/>
<line x1="661.70" y1="687.75" x2="659.70" y2="687.75" stroke="#141414" stroke-width="1.3"/>
<line x1="377.00" y1="674.50" x2="379.00" y2="674.50" stroke="#141414" stroke-width="1.3"/>
<line x1="661.70" y1="674.50" x2="659.70" y2="674.50" stroke="#141414" stroke-width="1.3"/>
<line x1="377.00" y1="661.25" x2="379.00" y2="661.25" stroke="#141414" stroke-width="1.3"/>
<line x1="661.70" y1="661.25" x2="659.70" y2="661.25" stroke="#141414" stroke-width="1.3"/>
<line x1="377.00" y1="648.00" x2="379.00" y2="648.00" stroke="#141414" stroke-width="1.3"/>
<line x1="661.70" y1="648.00" x2="659.70" y2="648.00" stroke="#141414" stroke-width="1.3"/>
<line x1="377.00" y1="634.75" x2="379.00" y2="634.75" stroke="#141414" stroke-width="1.3"/>
<line x1="661.70" y1="634.75" x2="659.70" y2="634.75" stroke="#141414" stroke-width="1.3"/>
<line x1="377.00" y1="621.50" x2="379.00" y2="621.50" stroke="#141414" stroke-width="1.3"/>
<line x1="661.70" y1="621.50" x2="659.70" y2="621.50" stroke="#141414" stroke-width="1.3"/>
<line x1="377.00" y1="608.25" x2="379.00" y2="608.25" stroke="#141414" stroke-width="1.3"/>
<line x1="661.70" y1="608.25" x2="659.70" y2="608.25" stroke="#141414" stroke-width="1.3"/>
<line x1="377.00" y1="595.00" x2="379.00" y2="595.00" stroke="#141414" stroke-width="1.3"/>
<line x1="661.70" y1="595.00" x2="659.70" y2="595.00" stroke="#141414" stroke-width="1.3"/>
</g><g filter="url(#bl2)">
<path d="M49.55,29.80 L71.90,29.80 L180.62,60.30 L204.78,60.30 L259.14,25.51 L289.34,164.78 L310.48,164.78" fill="none" stroke="#c40a0a" stroke-width="1.9" stroke-linejoin="round" stroke-linecap="butt"/>
<text transform="translate(41.70,179.80) scale(1.05,1)" text-anchor="middle" font-family='"Liberation Sans", sans-serif' font-size="6.5" font-weight="bold" fill="#000" stroke="#000" stroke-width="0.3">-50</text>
<text transform="translate(71.90,179.80) scale(1.05,1)" text-anchor="middle" font-family='"Liberation Sans", sans-serif' font-size="6.5" font-weight="bold" fill="#000" stroke="#000" stroke-width="0.3">0</text>
<text transform="translate(102.10,179.80) scale(1.05,1)" text-anchor="middle" font-family='"Liberation Sans", sans-serif' font-size="6.5" font-weight="bold" fill="#000" stroke="#000" stroke-width="0.3">50</text>
<text transform="translate(132.30,179.80) scale(1.05,1)" text-anchor="middle" font-family='"Liberation Sans", sans-serif' font-size="6.5" font-weight="bold" fill="#000" stroke="#000" stroke-width="0.3">100</text>
<text transform="translate(162.50,179.80) scale(1.05,1)" text-anchor="middle" font-family='"Liberation Sans", sans-serif' font-size="6.5" font-weight="bold" fill="#000" stroke="#000" stroke-width="0.3">150</text>
<text transform="translate(192.70,179.80) scale(1.05,1)" text-anchor="middle" font-family='"Liberation Sans", sans-serif' font-size="6.5" font-weight="bold" fill="#000" stroke="#000" stroke-width="0.3">200</text>
<text transform="translate(222.90,179.80) scale(1.05,1)" text-anchor="middle" font-family='"Liberation Sans", sans-serif' font-size="6.5" font-weight="bold" fill="#000" stroke="#000" stroke-width="0.3">250</text>
<text transform="translate(253.10,179.80) scale(1.05,1)" text-anchor="middle" font-family='"Liberation Sans", sans-serif' font-size="6.5" font-weight="bold" fill="#000" stroke="#000" stroke-width="0.3">300</text>
<text transform="translate(283.30,179.80) scale(1.05,1)" text-anchor="middle" font-family='"Liberation Sans", sans-serif' font-size="6.5" font-weight="bold" fill="#000" stroke="#000" stroke-width="0.3">350</text>
<text transform="translate(313.50,179.80) scale(1.05,1)" text-anchor="middle" font-family='"Liberation Sans", sans-serif' font-size="6.5" font-weight="bold" fill="#000" stroke="#000" stroke-width="0.3">400</text>
<text transform="translate(34.80,154.70) scale(1.04,1)" text-anchor="end" font-family='"Liberation Sans", sans-serif' font-size="6.5" font-weight="bold" fill="#000" stroke="#000" stroke-width="0.3">0.50</text>
<text transform="translate(34.80,130.30) scale(1.04,1)" text-anchor="end" font-family='"Liberation Sans", sans-serif' font-size="6.5" font-weight="bold" fill="#000" stroke="#000" stroke-width="0.3">0.55</text>
<text transform="translate(34.80,105.90) scale(1.04,1)" text-anchor="end" font-family='"Liberation Sans", sans-serif' font-size="6.5" font-weight="bold" fill="#000" stroke="#000" stroke-width="0.3">0.60</text>
<text transform="translate(34.80,81.50) scale(1.04,1)" text-anchor="end" font-family='"Liberation Sans", sans-serif' font-size="6.5" font-weight="bold" fill="#000" stroke="#000" stroke-width="0.3">0.65</text>
<text transform="translate(34.80,57.10) scale(1.04,1)" text-anchor="end" font-family='"Liberation Sans", sans-serif' font-size="6.5" font-weight="bold" fill="#000" stroke="#000" stroke-width="0.3">0.70</text>
<text transform="translate(34.80,32.70) scale(1.04,1)" text-anchor="end" font-family='"Liberation Sans", sans-serif' font-size="6.5" font-weight="bold" fill="#000" stroke="#000" stroke-width="0.3">0.75</text>
<path d="M375.91,25.25 L400.70,25.25 L401.20,25.25 L401.70,25.26 L402.20,25.26 L402.70,25.27 L403.20,25.28 L403.71,25.29 L404.21,25.30 L404.71,25.31 L405.21,25.33 L405.71,25.34 L406.21,25.36 L406.71,25.37 L407.21,25.39 L407.71,25.41 L408.21,25.43 L408.71,25.45 L409.21,25.47 L409.72,25.49 L410.22,25.51 L410.72,25.53 L411.22,25.55 L411.72,25.57 L412.22,25.59 L412.72,25.61 L413.22,25.64 L413.72,25.66 L414.22,25.69 L414.72,25.72 L415.23,25.75 L415.73,25.78 L416.23,25.81 L416.73,25.85 L417.23,25.89 L417.73,25.93 L418.23,25.98 L418.73,26.02 L419.23,26.08 L419.73,26.13 L420.23,26.20 L420.73,26.27 L421.24,26.36 L421.74,26.45 L422.24,26.55 L422.74,26.66 L423.24,26.78 L423.74,26.91 L424.24,27.04 L424.74,27.18 L425.24,27.32 L425.74,27.48 L426.24,27.63 L426.75,27.80 L427.25,27.96 L427.75,28.14 L428.25,28.31 L428.75,28.50 L429.25,28.71 L429.75,28.94 L430.25,29.19 L430.75,29.46 L431.25,29.74 L431.75,30.03 L432.25,30.34 L432.76,30.66 L433.26,31.00 L433.76,31.35 L434.26,31.70 L434.76,32.07 L435.26,32.45 L435.76,32.86 L436.26,33.28 L436.76,33.73 L437.26,34.19 L437.76,34.68 L438.26,35.18 L438.77,35.71 L439.27,36.26 L439.77,36.84 L440.27,37.43 L440.77,38.05 L441.27,38.69 L441.77,39.35 L442.27,40.03 L442.77,40.74 L443.27,41.50 L443.77,42.31 L444.28,43.17 L444.78,44.09 L445.28,45.05 L445.78,46.05 L446.28,47.10 L446.78,48.19 L447.28,49.32 L447.78,50.48 L448.28,51.68 L448.78,52.90 L449.28,54.16 L449.78,55.44 L450.29,56.75 L450.79,57.40 L451.29,58.05 L451.79,58.70 L452.29,59.36 L452.80,60.02 L453.30,60.68 L453.80,61.35 L454.30,62.01 L454.80,62.68 L455.30,63.35 L455.81,64.02 L456.31,64.70 L456.81,65.38 L457.31,66.05 L457.81,66.74 L458.32,67.42 L458.82,68.11 L459.32,68.79 L459.82,69.49 L460.32,70.18 L460.83,70.87 L461.33,71.57 L461.83,72.27 L462.33,72.97 L462.83,73.67 L463.33,74.38 L463.84,75.09 L464.34,75.82 L464.84,76.55 L465.34,77.30 L465.84,78.05 L466.35,78.81 L466.85,79.57 L467.35,80.34 L467.85,81.11 L468.35,81.88 L468.86,82.65 L469.36,83.42 L469.86,84.19 L470.36,84.96 L470.86,85.72 L471.36,86.48 L471.87,87.23 L472.37,87.97 L472.87,88.71 L473.37,89.43 L473.87,90.15 L474.38,90.85 L474.88,91.53 L475.38,92.21 L475.88,92.86 L476.38,93.50 L476.89,94.13 L477.39,94.76 L477.89,95.38 L478.39,96.00 L478.89,96.60 L479.39,97.21 L479.90,97.80 L480.40,98.40 L480.90,98.98 L481.40,99.56 L481.90,100.13 L482.41,100.70 L482.91,101.26 L483.41,101.81 L483.91,102.35 L484.41,102.89 L484.92,103.43 L485.42,103.95 L485.92,104.47 L486.42,104.98 L486.92,105.48 L487.42,105.97 L487.93,106.46 L488.43,106.94 L488.93,107.29 L489.43,107.63 L489.93,107.97 L490.43,108.31 L490.93,108.65 L491.43,108.98 L491.93,109.32 L492.43,109.65 L492.93,109.98 L493.43,110.32 L493.93,110.65 L494.43,110.97 L494.93,111.30 L495.43,111.62 L495.93,111.95 L496.43,112.27 L496.93,112.59 L497.43,112.91 L497.93,113.22 L498.43,113.54 L498.93,113.85 L499.43,114.16 L499.93,114.47 L500.43,114.78 L500.94,115.08 L501.44,115.38 L501.94,115.69 L502.44,115.98 L502.94,116.28 L503.44,116.58 L503.94,116.87 L504.44,117.16 L504.94,117.45 L505.44,117.73 L505.94,118.02 L506.44,118.30 L506.94,118.58 L507.44,118.86 L507.94,119.13 L508.44,119.41 L508.94,119.68 L509.44,119.95 L509.94,120.22 L510.44,120.49 L510.94,120.76 L511.44,121.02 L511.94,121.29 L512.44,121.55 L512.94,121.81 L513.44,122.07 L513.94,122.33 L514.44,122.59 L514.94,122.85 L515.44,123.11 L515.94,123.36 L516.44,123.62 L516.94,123.87 L517.44,124.12 L517.94,124.38 L518.44,124.63 L518.94,124.88 L519.44,125.13 L519.94,125.38 L520.45,125.63 L520.95,125.88 L521.45,126.13 L521.95,126.38 L522.45,126.62 L522.95,126.87 L523.45,127.12 L523.95,127.37 L524.45,127.62 L524.95,127.86 L525.45,128.11 L525.95,128.36 L526.45,128.61 L526.95,128.86 L527.45,129.11 L527.95,129.35 L528.45,129.60 L528.95,129.85 L529.45,130.09 L529.95,130.34 L530.45,130.58 L530.95,130.83 L531.45,131.07 L531.95,131.32 L532.45,131.56 L532.95,131.80 L533.45,132.04 L533.95,132.28 L534.45,132.53 L534.95,132.77 L535.45,133.01 L535.95,133.25 L536.45,133.48 L536.95,133.72 L537.45,133.96 L537.95,134.20 L538.45,134.43 L538.95,134.67 L539.45,134.91 L539.96,135.14 L540.46,135.38 L540.96,135.61 L541.46,135.84 L541.96,136.08 L542.46,136.31 L542.96,136.54 L543.46,136.77 L543.96,137.00 L544.46,137.24 L544.96,137.47 L545.46,137.70 L545.96,137.93 L546.46,138.16 L546.96,138.39 L547.46,138.62 L547.96,138.85 L548.46,139.07 L548.96,139.30 L549.46,139.53 L549.96,139.76 L550.46,139.99 L550.96,140.22 L551.46,140.45 L551.96,140.68 L552.46,140.90 L552.96,141.13 L553.46,141.35 L553.96,141.58 L554.46,141.80 L554.96,142.03 L555.46,142.25 L555.96,142.47 L556.46,142.70 L556.96,142.92 L557.46,143.14 L557.96,143.35 L558.46,143.57 L558.96,143.79 L559.47,144.00 L559.97,144.22 L560.47,144.43 L560.97,144.64 L561.47,144.85 L561.97,145.06 L562.47,145.27 L562.97,145.48 L563.47,145.68 L563.97,145.89 L564.47,146.09 L564.97,146.29 L565.47,146.49 L565.97,146.69 L566.47,146.88 L566.97,147.07 L567.47,147.27 L567.97,147.46 L568.47,147.65 L568.97,147.84 L569.47,148.02 L569.97,148.21 L570.47,148.39 L570.97,148.58 L571.47,148.76 L571.97,148.94 L572.47,149.12 L572.97,149.30 L573.47,149.48 L573.97,149.66 L574.47,149.84 L574.97,150.02 L575.47,150.20 L575.97,150.38 L576.47,150.56 L576.97,150.73 L577.47,150.91 L577.97,151.09 L578.48,151.27 L578.98,151.44 L579.48,151.62 L579.98,151.80 L580.48,151.98 L580.98,152.16 L581.48,152.34 L581.98,152.52 L582.48,152.70 L582.98,152.88 L583.48,153.06 L583.98,153.25 L584.48,153.43 L584.98,153.62 L585.48,153.80 L585.98,153.99 L586.48,154.18 L586.98,154.37 L587.48,154.56 L587.98,154.76 L588.48,154.95 L588.98,155.15 L589.48,155.34 L589.98,155.54 L590.48,155.73 L590.98,155.93 L591.48,156.12 L591.98,156.32 L592.48,156.52 L592.98,156.71 L593.48,156.91 L593.98,157.10 L594.48,157.30 L594.98,157.49 L595.48,157.68 L595.98,157.87 L596.48,158.06 L596.98,158.25 L597.48,158.44 L597.99,158.63 L598.49,158.81 L598.99,159.00 L599.49,159.18 L599.99,159.36 L600.49,159.53 L600.99,159.71 L601.49,159.88 L601.99,160.05 L602.49,160.22 L602.99,160.38 L603.49,160.54 L603.99,160.70 L604.49,160.86 L604.99,161.02 L605.49,161.18 L605.99,161.34 L606.49,161.50 L606.99,161.65 L607.49,161.81 L607.99,161.96 L608.49,162.11 L608.99,162.26 L609.49,162.41 L609.99,162.56 L610.49,162.70 L610.99,162.85 L611.49,163.00 L611.99,163.14 L612.49,163.28 L612.99,163.42 L613.49,163.56 L613.99,163.70 L614.49,163.84 L614.99,163.97 L615.49,164.11 L615.99,164.24 L616.49,164.37 L616.99,164.50 L617.50,164.63 L618.00,164.76 L618.50,164.88 L639.47,164.88" fill="none" stroke="#c40a0a" stroke-width="1.75" stroke-linejoin="round" stroke-linecap="butt"/>
<text transform="translate(374.00,179.80) scale(1.05,1)" text-anchor="middle" font-family='"Liberation Sans", sans-serif' font-size="6.5" font-weight="bold" fill="#000" stroke="#000" stroke-width="0.3">7</text>
<text transform="translate(412.14,179.80) scale(1.05,1)" text-anchor="middle" font-family='"Liberation Sans", sans-serif' font-size="6.5" font-weight="bold" fill="#000" stroke="#000" stroke-width="0.3">8</text>
<text transform="translate(450.29,179.80) scale(1.05,1)" text-anchor="middle" font-family='"Liberation Sans", sans-serif' font-size="6.5" font-weight="bold" fill="#000" stroke="#000" stroke-width="0.3">9</text>
<text transform="translate(488.43,179.80) scale(1.05,1)" text-anchor="middle" font-family='"Liberation Sans", sans-serif' font-size="6.5" font-weight="bold" fill="#000" stroke="#000" stroke-width="0.3">10</text>
<text transform="translate(526.57,179.80) scale(1.05,1)" text-anchor="middle" font-family='"Liberation Sans", sans-serif' font-size="6.5" font-weight="bold" fill="#000" stroke="#000" stroke-width="0.3">11</text>
<text transform="translate(564.71,179.80) scale(1.05,1)" text-anchor="middle" font-family='"Liberation Sans", sans-serif' font-size="6.5" font-weight="bold" fill="#000" stroke="#000" stroke-width="0.3">12</text>
<text transform="translate(602.86,179.80) scale(1.05,1)" text-anchor="middle" font-family='"Liberation Sans", sans-serif' font-size="6.5" font-weight="bold" fill="#000" stroke="#000" stroke-width="0.3">13</text>
<text transform="translate(641.00,179.80) scale(1.05,1)" text-anchor="middle" font-family='"Liberation Sans", sans-serif' font-size="6.5" font-weight="bold" fill="#000" stroke="#000" stroke-width="0.3">14</text>
<text transform="translate(360.30,162.90) scale(1.04,1)" text-anchor="end" font-family='"Liberation Sans", sans-serif' font-size="6.5" font-weight="bold" fill="#000" stroke="#000" stroke-width="0.3">0.2</text>
<text transform="translate(360.30,146.06) scale(1.04,1)" text-anchor="end" font-family='"Liberation Sans", sans-serif' font-size="6.5" font-weight="bold" fill="#000" stroke="#000" stroke-width="0.3">0.3</text>
<text transform="translate(360.30,129.21) scale(1.04,1)" text-anchor="end" font-family='"Liberation Sans", sans-serif' font-size="6.5" font-weight="bold" fill="#000" stroke="#000" stroke-width="0.3">0.4</text>
<text transform="translate(360.30,112.37) scale(1.04,1)" text-anchor="end" font-family='"Liberation Sans", sans-serif' font-size="6.5" font-weight="bold" fill="#000" stroke="#000" stroke-width="0.3">0.5</text>
<text transform="translate(360.30,95.53) scale(1.04,1)" text-anchor="end" font-family='"Liberation Sans", sans-serif' font-size="6.5" font-weight="bold" fill="#000" stroke="#000" stroke-width="0.3">0.6</text>
<text transform="translate(360.30,78.68) scale(1.04,1)" text-anchor="end" font-family='"Liberation Sans", sans-serif' font-size="6.5" font-weight="bold" fill="#000" stroke="#000" stroke-width="0.3">0.7</text>
<text transform="translate(360.30,61.84) scale(1.04,1)" text-anchor="end" font-family='"Liberation Sans", sans-serif' font-size="6.5" font-weight="bold" fill="#000" stroke="#000" stroke-width="0.3">0.8</text>
<text transform="translate(360.30,44.99) scale(1.04,1)" text-anchor="end" font-family='"Liberation Sans", sans-serif' font-size="6.5" font-weight="bold" fill="#000" stroke="#000" stroke-width="0.3">0.9</text>
<text transform="translate(360.30,28.15) scale(1.04,1)" text-anchor="end" font-family='"Liberation Sans", sans-serif' font-size="6.5" font-weight="bold" fill="#000" stroke="#000" stroke-width="0.3">1.0</text>
<path d="M52.43,359.92 L73.80,359.92 L74.30,359.78 L74.80,359.64 L75.30,359.49 L75.80,359.34 L76.31,359.18 L76.81,359.02 L77.31,358.85 L77.81,358.68 L78.31,358.50 L78.81,358.32 L79.31,358.12 L79.81,357.93 L80.31,357.72 L80.82,357.50 L81.32,357.28 L81.82,357.05 L82.32,356.81 L82.82,356.56 L83.32,356.31 L83.82,356.05 L84.32,355.78 L84.83,355.50 L85.33,355.22 L85.83,354.93 L86.33,354.64 L86.83,354.34 L87.33,354.03 L87.83,353.72 L88.33,353.41 L88.83,353.08 L89.34,352.76 L89.84,352.42 L90.34,352.09 L90.84,351.75 L91.34,351.40 L91.84,351.05 L92.34,350.69 L92.84,350.34 L93.34,349.98 L93.85,349.61 L94.35,349.24 L94.85,348.87 L95.35,348.50 L95.85,348.12 L96.35,347.74 L96.85,347.36 L97.35,346.97 L97.85,346.59 L98.36,346.20 L98.86,345.81 L99.36,345.42 L99.86,345.03 L100.36,344.63 L100.86,344.24 L101.36,343.84 L101.86,343.45 L102.37,343.05 L102.87,342.65 L103.37,342.26 L103.87,341.86 L104.37,341.47 L104.87,341.07 L105.37,340.68 L105.87,340.28 L106.37,339.89 L106.88,339.50 L107.38,339.11 L107.88,338.72 L108.38,338.34 L108.88,337.95 L109.38,337.57 L109.88,337.19 L110.38,336.81 L110.88,336.44 L111.39,336.07 L111.89,335.70 L112.39,335.33 L112.89,334.97 L113.39,334.62 L113.89,334.26 L114.39,333.90 L114.89,333.54 L115.39,333.19 L115.90,332.83 L116.40,332.47 L116.90,332.11 L117.40,331.76 L117.90,331.40 L118.40,331.04 L118.90,330.68 L119.40,330.32 L119.91,329.97 L120.41,329.61 L120.91,329.25 L121.41,328.89 L121.91,328.53 L122.41,328.17 L122.91,327.81 L123.41,327.45 L123.91,327.09 L124.42,326.73 L124.92,326.37 L125.42,326.01 L125.92,325.65 L126.42,325.29 L126.92,324.93 L127.42,324.56 L127.92,324.20 L128.42,323.84 L128.93,323.48 L129.43,323.12 L129.93,322.75 L130.43,322.39 L130.93,322.03 L131.43,321.66 L131.93,321.30 L132.43,320.93 L132.93,320.57 L133.44,320.20 L133.94,319.84 L134.44,319.47 L134.94,319.11 L135.44,318.74 L135.94,318.38 L136.44,318.01 L136.94,317.64 L137.45,317.27 L137.95,316.91 L138.45,316.54 L138.95,316.17 L139.45,315.80 L139.95,315.43 L140.45,315.06 L140.95,314.69 L141.45,314.32 L141.96,313.95 L142.46,313.58 L142.96,313.21 L143.46,312.83 L143.96,312.46 L144.46,312.09 L144.96,311.71 L145.46,311.34 L145.96,310.97 L146.47,310.59 L146.97,310.22 L147.47,309.84 L147.97,309.46 L148.47,309.09 L148.97,308.71 L149.47,308.33 L149.97,307.96 L150.47,307.58 L150.98,307.20 L151.48,306.82 L151.98,306.44 L152.48,306.06 L152.98,305.68 L153.48,305.30 L153.98,304.92 L154.48,304.54 L154.99,304.16 L155.49,303.78 L155.99,303.40 L156.49,303.01 L156.99,302.63 L157.49,302.25 L157.99,301.86 L158.49,301.48 L158.99,301.10 L159.50,300.71 L160.00,300.33 L160.50,299.94 L161.00,299.56 L161.50,299.17 L162.00,298.78 L162.50,298.40 L163.00,298.01 L163.50,297.62 L164.01,297.23 L164.51,296.85 L165.01,296.46 L165.51,296.07 L166.01,295.68 L166.51,295.29 L167.01,294.90 L167.51,294.51 L168.01,294.12 L168.52,293.73 L169.02,293.34 L169.52,292.94 L170.02,292.55 L170.52,292.16 L171.02,291.77 L171.52,291.37 L172.02,290.98 L172.53,290.59 L173.03,290.19 L173.53,289.80 L174.03,289.40 L174.53,289.01 L175.03,288.61 L175.53,288.22 L176.03,287.82 L176.53,287.42 L177.04,286.44 L177.54,285.47 L178.04,284.51 L178.54,283.55 L179.04,282.59 L179.54,281.65 L180.04,280.70 L180.54,279.77 L181.04,278.84 L181.54,277.92 L182.04,277.00 L182.55,276.09 L183.05,275.18 L183.55,274.28 L184.05,273.39 L184.55,272.50 L185.05,271.62 L185.55,270.75 L186.05,269.88 L186.55,269.02 L187.05,268.16 L187.55,267.31 L188.06,266.46 L188.56,265.63 L189.06,264.79 L189.56,263.96 L190.06,263.13 L190.56,262.31 L191.06,261.49 L191.56,260.67 L192.06,259.86 L192.56,259.05 L193.06,258.25 L193.57,257.46 L194.07,256.68 L194.57,255.91 L195.07,255.14 L195.57,254.39 L196.07,253.65 L196.57,252.92 L197.07,252.21 L197.57,251.51 L198.07,250.83 L198.57,250.16 L199.08,249.49 L199.58,248.83 L200.08,248.18 L200.58,247.52 L201.08,246.88 L201.58,246.24 L202.08,245.60 L202.58,244.97 L203.08,244.35 L203.58,243.73 L204.08,243.12 L204.59,242.52 L205.09,241.93 L205.59,241.35 L206.09,240.77 L206.59,240.21 L207.09,239.65 L207.59,239.11 L208.09,238.58 L208.59,238.05 L209.09,237.54 L209.59,237.04 L210.10,236.56 L210.60,236.08 L211.10,235.62 L211.60,235.18 L212.10,234.74 L212.60,234.31 L213.10,233.89 L213.60,233.48 L214.10,233.07 L214.60,232.67 L215.10,232.28 L215.61,231.90 L216.11,231.52 L216.61,231.15 L217.11,230.80 L217.61,230.44 L218.11,230.10 L218.61,229.77 L219.11,229.44 L219.61,229.12 L220.11,228.81 L220.61,228.51 L221.12,228.21 L221.62,227.93 L222.12,227.65 L222.62,227.38 L223.12,227.11 L223.62,226.84 L224.12,226.58 L224.62,226.32 L225.12,226.06 L225.62,225.82 L226.12,225.57 L226.62,225.34 L227.13,225.11 L227.63,224.88 L228.13,224.67 L228.63,224.46 L229.13,224.26 L229.63,224.07 L230.13,223.88 L230.63,223.71 L231.13,223.55 L231.63,223.39 L232.13,223.24 L232.64,223.08 L233.14,222.93 L233.64,222.77 L234.14,222.62 L234.64,222.47 L235.14,222.31 L235.64,222.16 L236.14,222.01 L236.64,221.87 L237.14,221.73 L237.64,221.59 L238.15,221.46 L238.65,221.34 L239.15,221.22 L239.65,221.11 L240.15,221.00 L240.65,220.90 L241.15,220.82 L241.65,220.74 L242.15,220.67 L242.65,220.61 L243.15,220.57 L243.66,220.53 L244.16,220.51 L244.66,220.50 L245.16,220.50 L245.66,220.50 L246.16,220.50 L246.66,220.50 L247.16,220.50 L247.66,220.50 L248.16,220.50 L248.66,220.50 L249.17,220.50 L249.67,220.50 L250.17,220.50 L250.67,220.50 L251.17,220.50 L251.67,220.50 L252.17,220.50 L252.67,220.50 L253.17,220.50 L253.67,220.50 L254.17,220.50 L254.68,220.50 L255.18,220.50 L255.68,220.50 L256.18,220.50 L256.68,220.50 L257.18,220.50 L257.68,220.50 L258.18,220.50 L258.68,220.50 L259.18,220.50 L259.68,220.50 L260.19,220.50 L260.69,220.50 L261.19,220.50 L312.97,220.50" fill="none" stroke="#c40a0a" stroke-width="1.75" stroke-linejoin="round" stroke-linecap="butt"/>
<text transform="translate(47.50,374.50) scale(1.05,1)" text-anchor="middle" font-family='"Liberation Sans", sans-serif' font-size="6.5" font-weight="bold" fill="#000" stroke="#000" stroke-width="0.3">26</text>
<text transform="translate(80.38,374.50) scale(1.05,1)" text-anchor="middle" font-family='"Liberation Sans", sans-serif' font-size="6.5" font-weight="bold" fill="#000" stroke="#000" stroke-width="0.3">28</text>
<text transform="translate(113.25,374.50) scale(1.05,1)" text-anchor="middle" font-family='"Liberation Sans", sans-serif' font-size="6.5" font-weight="bold" fill="#000" stroke="#000" stroke-width="0.3">30</text>
<text transform="translate(146.12,374.50) scale(1.05,1)" text-anchor="middle" font-family='"Liberation Sans", sans-serif' font-size="6.5" font-weight="bold" fill="#000" stroke="#000" stroke-width="0.3">32</text>
<text transform="translate(179.00,374.50) scale(1.05,1)" text-anchor="middle" font-family='"Liberation Sans", sans-serif' font-size="6.5" font-weight="bold" fill="#000" stroke="#000" stroke-width="0.3">34</text>
<text transform="translate(211.88,374.50) scale(1.05,1)" text-anchor="middle" font-family='"Liberation Sans", sans-serif' font-size="6.5" font-weight="bold" fill="#000" stroke="#000" stroke-width="0.3">36</text>
<text transform="translate(244.75,374.50) scale(1.05,1)" text-anchor="middle" font-family='"Liberation Sans", sans-serif' font-size="6.5" font-weight="bold" fill="#000" stroke="#000" stroke-width="0.3">38</text>
<text transform="translate(277.62,374.50) scale(1.05,1)" text-anchor="middle" font-family='"Liberation Sans", sans-serif' font-size="6.5" font-weight="bold" fill="#000" stroke="#000" stroke-width="0.3">40</text>
<text transform="translate(310.50,374.50) scale(1.05,1)" text-anchor="middle" font-family='"Liberation Sans", sans-serif' font-size="6.5" font-weight="bold" fill="#000" stroke="#000" stroke-width="0.3">42</text>
<text transform="translate(36.90,368.40) scale(1.04,1)" text-anchor="end" font-family='"Liberation Sans", sans-serif' font-size="6.5" font-weight="bold" fill="#000" stroke="#000" stroke-width="0.3">0.35</text>
<text transform="translate(36.90,357.25) scale(1.04,1)" text-anchor="end" font-family='"Liberation Sans", sans-serif' font-size="6.5" font-weight="bold" fill="#000" stroke="#000" stroke-width="0.3">0.40</text>
<text transform="translate(36.90,346.09) scale(1.04,1)" text-anchor="end" font-family='"Liberation Sans", sans-serif' font-size="6.5" font-weight="bold" fill="#000" stroke="#000" stroke-width="0.3">0.45</text>
<text transform="translate(36.90,334.94) scale(1.04,1)" text-anchor="end" font-family='"Liberation Sans", sans-serif' font-size="6.5" font-weight="bold" fill="#000" stroke="#000" stroke-width="0.3">0.50</text>
<text transform="translate(36.90,323.78) scale(1.04,1)" text-anchor="end" font-family='"Liberation Sans", sans-serif' font-size="6.5" font-weight="bold" fill="#000" stroke="#000" stroke-width="0.3">0.55</text>
<text transform="translate(36.90,312.63) scale(1.04,1)" text-anchor="end" font-family='"Liberation Sans", sans-serif' font-size="6.5" font-weight="bold" fill="#000" stroke="#000" stroke-width="0.3">0.60</text>
<text transform="translate(36.90,301.48) scale(1.04,1)" text-anchor="end" font-family='"Liberation Sans", sans-serif' font-size="6.5" font-weight="bold" fill="#000" stroke="#000" stroke-width="0.3">0.65</text>
<text transform="translate(36.90,290.32) scale(1.04,1)" text-anchor="end" font-family='"Liberation Sans", sans-serif' font-size="6.5" font-weight="bold" fill="#000" stroke="#000" stroke-width="0.3">0.70</text>
<text transform="translate(36.90,279.17) scale(1.04,1)" text-anchor="end" font-family='"Liberation Sans", sans-serif' font-size="6.5" font-weight="bold" fill="#000" stroke="#000" stroke-width="0.3">0.75</text>
<text transform="translate(36.90,268.02) scale(1.04,1)" text-anchor="end" font-family='"Liberation Sans", sans-serif' font-size="6.5" font-weight="bold" fill="#000" stroke="#000" stroke-width="0.3">0.80</text>
<text transform="translate(36.90,256.86) scale(1.04,1)" text-anchor="end" font-family='"Liberation Sans", sans-serif' font-size="6.5" font-weight="bold" fill="#000" stroke="#000" stroke-width="0.3">0.85</text>
<text transform="translate(36.90,245.71) scale(1.04,1)" text-anchor="end" font-family='"Liberation Sans", sans-serif' font-size="6.5" font-weight="bold" fill="#000" stroke="#000" stroke-width="0.3">0.90</text>
<text transform="translate(36.90,234.55) scale(1.04,1)" text-anchor="end" font-family='"Liberation Sans", sans-serif' font-size="6.5" font-weight="bold" fill="#000" stroke="#000" stroke-width="0.3">0.95</text>
<text transform="translate(36.90,223.40) scale(1.04,1)" text-anchor="end" font-family='"Liberation Sans", sans-serif' font-size="6.5" font-weight="bold" fill="#000" stroke="#000" stroke-width="0.3">1.00</text>
<path d="M375.70,220.86 L376.20,220.85 L376.70,220.85 L377.20,220.85 L377.70,220.84 L378.20,220.84 L378.70,220.83 L379.20,220.83 L379.70,220.83 L380.20,220.82 L380.70,220.82 L381.20,220.81 L381.70,220.81 L382.20,220.80 L382.70,220.80 L383.20,220.79 L383.71,220.79 L384.21,220.78 L384.71,220.78 L385.21,220.77 L385.71,220.76 L386.21,220.76 L386.71,220.75 L387.21,220.75 L387.71,220.74 L388.21,220.73 L388.71,220.73 L389.21,220.72 L389.71,220.71 L390.21,220.71 L390.71,220.70 L391.21,220.69 L391.71,220.69 L392.21,220.68 L392.71,220.67 L393.21,220.66 L393.71,220.66 L394.21,220.65 L394.71,220.64 L395.21,220.63 L395.71,220.62 L396.21,220.61 L396.71,220.60 L397.21,220.59 L397.71,220.58 L398.21,220.57 L398.72,220.57 L399.22,220.56 L399.72,220.55 L400.22,220.53 L400.72,220.52 L401.22,220.51 L401.72,220.50 L402.22,220.49 L402.72,220.48 L403.22,220.47 L403.72,220.46 L404.22,220.45 L404.72,220.44 L405.22,220.43 L405.72,220.42 L406.22,220.40 L406.72,220.39 L407.22,220.37 L407.72,220.36 L408.22,220.34 L408.72,220.32 L409.22,220.30 L409.72,220.28 L410.22,220.26 L410.72,220.25 L411.22,220.23 L411.72,220.21 L412.22,220.19 L412.72,220.18 L413.22,220.16 L413.72,220.15 L414.23,220.14 L414.73,220.13 L415.23,220.13 L415.73,220.13 L416.23,220.13 L416.73,220.13 L417.23,220.13 L417.73,220.14 L418.23,220.14 L418.73,220.15 L419.23,220.16 L419.73,220.17 L420.23,220.19 L420.73,220.20 L421.23,220.22 L421.73,220.23 L422.23,220.25 L422.73,220.27 L423.23,220.29 L423.73,220.31 L424.23,220.33 L424.73,220.35 L425.23,220.37 L425.73,220.39 L426.23,220.41 L426.73,220.43 L427.23,220.46 L427.73,220.49 L428.23,220.52 L428.73,220.55 L429.24,220.58 L429.74,220.62 L430.24,220.66 L430.74,220.70 L431.24,220.75 L431.74,220.80 L432.24,220.84 L432.74,220.90 L433.24,220.95 L433.74,221.00 L434.24,221.06 L434.74,221.12 L435.24,221.18 L435.74,221.25 L436.24,221.31 L436.74,221.38 L437.24,221.45 L437.74,221.52 L438.24,221.59 L438.74,221.66 L439.24,221.74 L439.74,221.81 L440.24,221.89 L440.74,221.97 L441.24,222.05 L441.74,222.13 L442.24,222.21 L442.74,222.30 L443.24,222.40 L443.74,222.51 L444.24,222.62 L444.75,222.75 L445.25,222.87 L445.75,223.01 L446.25,223.15 L446.75,223.29 L447.25,223.44 L447.75,223.60 L448.25,223.75 L448.75,223.91 L449.25,224.08 L449.75,224.24 L450.25,224.41 L450.75,224.57 L451.25,224.74 L451.75,224.91 L452.25,225.08 L452.75,225.24 L453.25,225.41 L453.75,225.57 L454.25,225.73 L454.75,225.89 L455.25,226.04 L455.75,226.20 L456.25,226.35 L456.75,226.50 L457.25,226.65 L457.75,226.80 L458.25,226.95 L458.75,227.10 L459.25,227.25 L459.75,227.40 L460.26,227.55 L460.76,227.70 L461.26,227.86 L461.76,228.02 L462.26,228.17 L462.76,228.33 L463.26,228.50 L463.76,228.66 L464.26,228.83 L464.76,229.00 L465.26,229.17 L465.76,229.35 L466.26,229.53 L466.76,229.72 L467.26,229.91 L467.76,230.10 L468.26,230.30 L468.76,230.51 L469.26,230.72 L469.76,230.93 L470.26,231.15 L470.76,231.37 L471.26,231.60 L471.76,231.84 L472.26,232.08 L472.76,232.32 L473.26,232.57 L473.76,232.83 L474.26,233.09 L474.76,233.36 L475.27,233.63 L475.77,233.91 L476.27,234.20 L476.77,234.49 L477.27,234.79 L477.77,235.09 L478.27,235.41 L478.77,235.73 L479.27,236.07 L479.77,236.41 L480.27,236.77 L480.77,237.13 L481.27,237.50 L481.77,237.89 L482.27,238.28 L482.77,238.68 L483.27,239.08 L483.77,239.50 L484.27,239.92 L484.77,240.35 L485.27,240.78 L485.77,241.23 L486.27,241.67 L486.77,242.12 L487.27,242.58 L487.77,243.05 L488.27,243.51 L488.77,243.98 L489.27,244.46 L489.77,244.94 L490.27,245.42 L490.78,245.90 L491.28,246.39 L491.78,246.89 L492.28,247.40 L492.78,247.91 L493.28,248.44 L493.78,248.97 L494.28,249.52 L494.78,250.07 L495.28,250.63 L495.78,251.20 L496.28,251.78 L496.78,252.36 L497.28,252.95 L497.78,253.54 L498.28,254.14 L498.78,254.74 L499.28,255.35 L499.78,255.96 L500.28,256.58 L500.78,257.20 L501.28,257.82 L501.78,258.45 L502.28,259.08 L502.78,259.70 L503.28,260.33 L503.78,260.96 L504.28,261.59 L504.78,262.22 L505.28,262.85 L505.79,263.49 L506.29,264.12 L506.79,264.77 L507.29,265.42 L507.79,266.07 L508.29,266.73 L508.79,267.40 L509.29,268.07 L509.79,268.74 L510.29,269.42 L510.79,270.10 L511.29,270.79 L511.79,271.48 L512.29,272.17 L512.79,272.86 L513.29,273.55 L513.79,274.24 L514.29,274.94 L514.79,275.63 L515.29,276.32 L515.79,277.02 L516.29,277.71 L516.79,278.40 L517.29,279.09 L517.79,279.77 L518.29,280.45 L518.79,281.14 L519.29,281.81 L519.79,282.48 L520.29,283.15 L520.79,283.82 L521.30,284.49 L521.80,285.16 L522.30,285.83 L522.80,286.50 L523.30,287.16 L523.80,287.83 L524.30,288.50 L524.80,289.17 L525.30,289.83 L525.80,290.50 L526.30,291.16 L526.80,291.82 L527.30,292.49 L527.80,293.15 L528.30,293.81 L528.80,294.47 L529.30,295.13 L529.80,295.79 L530.30,296.44 L530.80,297.10 L531.30,297.75 L531.80,298.40 L532.30,299.05 L532.80,299.70 L533.30,300.35 L533.80,301.00 L534.30,301.64 L534.80,302.29 L535.30,302.93 L535.80,303.58 L536.31,304.22 L536.81,304.87 L537.31,305.51 L537.81,306.16 L538.31,306.80 L538.81,307.44 L539.31,308.08 L539.81,308.72 L540.31,309.35 L540.81,309.99 L541.31,310.62 L541.81,311.24 L542.31,311.87 L542.81,312.49 L543.31,313.10 L543.81,313.72 L544.31,314.32 L544.81,314.93 L545.31,315.53 L545.81,316.12 L546.31,316.71 L546.81,317.29 L547.31,317.88 L547.81,318.47 L548.31,319.05 L548.81,319.64 L549.31,320.22 L549.81,320.80 L550.31,321.38 L550.81,321.95 L551.31,322.52 L551.82,323.09 L552.32,323.66 L552.82,324.22 L553.32,324.77 L553.82,325.32 L554.32,325.87 L554.82,326.41 L555.32,326.94 L555.82,327.47 L556.32,327.99 L556.82,328.50 L557.32,329.01 L557.82,329.51 L558.32,330.00 L558.82,330.48 L559.32,330.95 L559.82,331.42 L560.32,331.89 L560.82,332.35 L561.32,332.81 L561.82,333.26 L562.32,333.71 L562.82,334.16 L563.32,334.60 L563.82,335.04 L564.32,335.47 L564.82,335.90 L565.32,336.33 L565.82,336.75 L566.32,337.16 L566.82,337.57 L567.33,337.97 L567.83,338.37 L568.33,338.76 L568.83,339.15 L569.33,339.53 L569.83,339.90 L570.33,340.27 L570.83,340.63 L571.33,340.98 L571.83,341.33 L572.33,341.68 L572.83,342.01 L573.33,342.34 L573.83,342.67 L574.33,342.99 L574.83,343.30 L575.33,343.62 L575.83,343.92 L576.33,344.22 L576.83,344.52 L577.33,344.82 L577.83,345.11 L578.33,345.40 L578.83,345.68 L579.33,345.96 L579.83,346.24 L580.33,346.52 L580.83,346.80 L581.33,347.07 L581.83,347.34 L582.34,347.61 L582.84,347.88 L583.34,348.15 L583.84,348.42 L584.34,348.69 L584.84,348.96 L585.34,349.23 L585.84,349.50 L586.34,349.77 L586.84,350.05 L587.34,350.33 L587.84,350.61 L588.34,350.89 L588.84,351.18 L589.34,351.46 L589.84,351.74 L590.34,352.01 L590.84,352.29 L591.34,352.56 L591.84,352.82 L592.34,353.08 L592.84,353.34 L593.34,353.59 L593.84,353.83 L594.34,354.06 L594.84,354.29 L595.34,354.50 L595.84,354.71 L596.34,354.90 L596.84,355.09 L597.34,355.26 L597.85,355.42 L598.35,355.57 L598.85,355.72 L599.35,355.86 L599.85,356.00 L600.35,356.13 L600.85,356.26 L601.35,356.39 L601.85,356.52 L602.35,356.64 L602.85,356.76 L603.35,356.88 L603.85,356.99 L604.35,357.10 L604.85,357.21 L605.35,357.31 L605.85,357.41 L606.35,357.51 L606.85,357.60 L607.35,357.69 L607.85,357.77 L608.35,357.86 L608.85,357.94 L609.35,358.01 L609.85,358.09 L610.35,358.16 L610.85,358.22 L611.35,358.29 L611.85,358.35 L612.35,358.41 L612.86,358.47 L613.36,358.53 L613.86,358.59 L614.36,358.64 L614.86,358.69 L615.36,358.75 L615.86,358.80 L616.36,358.84 L616.86,358.89 L617.36,358.93 L617.86,358.97 L618.36,359.00 L618.86,359.04 L619.36,359.07 L619.86,359.09 L620.36,359.12 L640.64,359.12" fill="none" stroke="#c40a0a" stroke-width="1.75" stroke-linejoin="round" stroke-linecap="butt"/>
<text transform="translate(364.00,374.50) scale(1.05,1)" text-anchor="middle" font-family='"Liberation Sans", sans-serif' font-size="6.5" font-weight="bold" fill="#000" stroke="#000" stroke-width="0.3">-20</text>
<text transform="translate(390.00,374.50) scale(1.05,1)" text-anchor="middle" font-family='"Liberation Sans", sans-serif' font-size="6.5" font-weight="bold" fill="#000" stroke="#000" stroke-width="0.3">-15</text>
<text transform="translate(416.00,374.50) scale(1.05,1)" text-anchor="middle" font-family='"Liberation Sans", sans-serif' font-size="6.5" font-weight="bold" fill="#000" stroke="#000" stroke-width="0.3">-10</text>
<text transform="translate(442.00,374.50) scale(1.05,1)" text-anchor="middle" font-family='"Liberation Sans", sans-serif' font-size="6.5" font-weight="bold" fill="#000" stroke="#000" stroke-width="0.3">-5</text>
<text transform="translate(468.00,374.50) scale(1.05,1)" text-anchor="middle" font-family='"Liberation Sans", sans-serif' font-size="6.5" font-weight="bold" fill="#000" stroke="#000" stroke-width="0.3">0</text>
<text transform="translate(494.00,374.50) scale(1.05,1)" text-anchor="middle" font-family='"Liberation Sans", sans-serif' font-size="6.5" font-weight="bold" fill="#000" stroke="#000" stroke-width="0.3">5</text>
<text transform="translate(520.00,374.50) scale(1.05,1)" text-anchor="middle" font-family='"Liberation Sans", sans-serif' font-size="6.5" font-weight="bold" fill="#000" stroke="#000" stroke-width="0.3">10</text>
<text transform="translate(546.00,374.50) scale(1.05,1)" text-anchor="middle" font-family='"Liberation Sans", sans-serif' font-size="6.5" font-weight="bold" fill="#000" stroke="#000" stroke-width="0.3">15</text>
<text transform="translate(572.00,374.50) scale(1.05,1)" text-anchor="middle" font-family='"Liberation Sans", sans-serif' font-size="6.5" font-weight="bold" fill="#000" stroke="#000" stroke-width="0.3">20</text>
<text transform="translate(598.00,374.50) scale(1.05,1)" text-anchor="middle" font-family='"Liberation Sans", sans-serif' font-size="6.5" font-weight="bold" fill="#000" stroke="#000" stroke-width="0.3">25</text>
<text transform="translate(624.00,374.50) scale(1.05,1)" text-anchor="middle" font-family='"Liberation Sans", sans-serif' font-size="6.5" font-weight="bold" fill="#000" stroke="#000" stroke-width="0.3">30</text>
<text transform="translate(650.00,374.50) scale(1.05,1)" text-anchor="middle" font-family='"Liberation Sans", sans-serif' font-size="6.5" font-weight="bold" fill="#000" stroke="#000" stroke-width="0.3">35</text>
<text transform="translate(359.80,364.50) scale(1.04,1)" text-anchor="end" font-family='"Liberation Sans", sans-serif' font-size="6.5" font-weight="bold" fill="#000" stroke="#000" stroke-width="0.3">0.0</text>
<text transform="translate(359.80,349.90) scale(1.04,1)" text-anchor="end" font-family='"Liberation Sans", sans-serif' font-size="6.5" font-weight="bold" fill="#000" stroke="#000" stroke-width="0.3">0.1</text>
<text transform="translate(359.80,335.30) scale(1.04,1)" text-anchor="end" font-family='"Liberation Sans", sans-serif' font-size="6.5" font-weight="bold" fill="#000" stroke="#000" stroke-width="0.3">0.2</text>
<text transform="translate(359.80,320.70) scale(1.04,1)" text-anchor="end" font-family='"Liberation Sans", sans-serif' font-size="6.5" font-weight="bold" fill="#000" stroke="#000" stroke-width="0.3">0.3</text>
<text transform="translate(359.80,306.10) scale(1.04,1)" text-anchor="end" font-family='"Liberation Sans", sans-serif' font-size="6.5" font-weight="bold" fill="#000" stroke="#000" stroke-width="0.3">0.4</text>
<text transform="translate(359.80,291.50) scale(1.04,1)" text-anchor="end" font-family='"Liberation Sans", sans-serif' font-size="6.5" font-weight="bold" fill="#000" stroke="#000" stroke-width="0.3">0.5</text>
<text transform="translate(359.80,276.90) scale(1.04,1)" text-anchor="end" font-family='"Liberation Sans", sans-serif' font-size="6.5" font-weight="bold" fill="#000" stroke="#000" stroke-width="0.3">0.6</text>
<text transform="translate(359.80,262.30) scale(1.04,1)" text-anchor="end" font-family='"Liberation Sans", sans-serif' font-size="6.5" font-weight="bold" fill="#000" stroke="#000" stroke-width="0.3">0.7</text>
<text transform="translate(359.80,247.70) scale(1.04,1)" text-anchor="end" font-family='"Liberation Sans", sans-serif' font-size="6.5" font-weight="bold" fill="#000" stroke="#000" stroke-width="0.3">0.8</text>
<text transform="translate(359.80,233.10) scale(1.04,1)" text-anchor="end" font-family='"Liberation Sans", sans-serif' font-size="6.5" font-weight="bold" fill="#000" stroke="#000" stroke-width="0.3">0.9</text>
<text transform="translate(359.80,218.50) scale(1.04,1)" text-anchor="end" font-family='"Liberation Sans", sans-serif' font-size="6.5" font-weight="bold" fill="#000" stroke="#000" stroke-width="0.3">1.0</text>
<path d="M50.29,545.15 L72.01,545.15 L74.35,517.19 L77.12,476.17 L83.08,408.50 L86.91,430.69 L91.81,467.97 L92.45,478.04 L202.09,485.50 L292.36,526.51 L314.29,526.51" fill="none" stroke="#e40808" stroke-width="1.85" stroke-linejoin="round" stroke-linecap="butt"/>
<text transform="translate(80.10,559.70) scale(1.05,1)" text-anchor="middle" font-family='"Liberation Sans", sans-serif' font-size="6.5" font-weight="bold" fill="#000" stroke="#000" stroke-width="0.3">40</text>
<text transform="translate(122.68,559.70) scale(1.05,1)" text-anchor="middle" font-family='"Liberation Sans", sans-serif' font-size="6.5" font-weight="bold" fill="#000" stroke="#000" stroke-width="0.3">60</text>
<text transform="translate(165.26,559.70) scale(1.05,1)" text-anchor="middle" font-family='"Liberation Sans", sans-serif' font-size="6.5" font-weight="bold" fill="#000" stroke="#000" stroke-width="0.3">80</text>
<text transform="translate(207.84,559.70) scale(1.05,1)" text-anchor="middle" font-family='"Liberation Sans", sans-serif' font-size="6.5" font-weight="bold" fill="#000" stroke="#000" stroke-width="0.3">100</text>
<text transform="translate(250.42,559.70) scale(1.05,1)" text-anchor="middle" font-family='"Liberation Sans", sans-serif' font-size="6.5" font-weight="bold" fill="#000" stroke="#000" stroke-width="0.3">120</text>
<text transform="translate(293.00,559.70) scale(1.05,1)" text-anchor="middle" font-family='"Liberation Sans", sans-serif' font-size="6.5" font-weight="bold" fill="#000" stroke="#000" stroke-width="0.3">140</text>
<text transform="translate(35.50,552.90) scale(1.04,1)" text-anchor="end" font-family='"Liberation Sans", sans-serif' font-size="6.5" font-weight="bold" fill="#000" stroke="#000" stroke-width="0.3">0.50</text>
<text transform="translate(35.50,534.26) scale(1.04,1)" text-anchor="end" font-family='"Liberation Sans", sans-serif' font-size="6.5" font-weight="bold" fill="#000" stroke="#000" stroke-width="0.3">0.55</text>
<text transform="translate(35.50,515.61) scale(1.04,1)" text-anchor="end" font-family='"Liberation Sans", sans-serif' font-size="6.5" font-weight="bold" fill="#000" stroke="#000" stroke-width="0.3">0.60</text>
<text transform="translate(35.50,496.97) scale(1.04,1)" text-anchor="end" font-family='"Liberation Sans", sans-serif' font-size="6.5" font-weight="bold" fill="#000" stroke="#000" stroke-width="0.3">0.65</text>
<text transform="translate(35.50,478.33) scale(1.04,1)" text-anchor="end" font-family='"Liberation Sans", sans-serif' font-size="6.5" font-weight="bold" fill="#000" stroke="#000" stroke-width="0.3">0.70</text>
<text transform="translate(35.50,459.69) scale(1.04,1)" text-anchor="end" font-family='"Liberation Sans", sans-serif' font-size="6.5" font-weight="bold" fill="#000" stroke="#000" stroke-width="0.3">0.75</text>
<text transform="translate(35.50,441.04) scale(1.04,1)" text-anchor="end" font-family='"Liberation Sans", sans-serif' font-size="6.5" font-weight="bold" fill="#000" stroke="#000" stroke-width="0.3">0.80</text>
<text transform="translate(35.50,422.40) scale(1.04,1)" text-anchor="end" font-family='"Liberation Sans", sans-serif' font-size="6.5" font-weight="bold" fill="#000" stroke="#000" stroke-width="0.3">0.85</text>
<path d="M384.78,545.12 L385.28,545.12 L385.78,545.12 L386.28,545.12 L386.78,545.12 L387.28,545.12 L387.78,545.12 L388.28,545.12 L388.78,545.12 L389.28,545.12 L389.78,545.12 L390.28,545.12 L390.78,545.12 L391.28,545.12 L391.78,545.12 L392.28,545.12 L392.78,545.12 L393.29,545.12 L393.79,545.12 L394.29,545.12 L394.79,545.12 L395.29,545.12 L395.79,545.12 L396.29,545.12 L396.79,545.12 L397.29,545.12 L397.79,545.12 L398.29,545.12 L398.79,545.12 L399.29,545.12 L399.79,545.12 L400.29,545.12 L400.79,545.12 L401.29,545.12 L401.79,545.12 L402.29,545.12 L402.79,545.12 L403.29,545.12 L403.79,545.12 L404.29,545.12 L404.79,545.12 L405.29,545.12 L405.80,545.12 L406.30,545.12 L406.80,545.11 L407.30,545.10 L407.80,545.09 L408.30,545.06 L408.80,545.04 L409.30,545.01 L409.80,544.98 L410.30,544.95 L410.80,544.91 L411.30,544.87 L411.80,544.83 L412.30,544.78 L412.80,544.74 L413.30,544.69 L413.80,544.64 L414.30,544.59 L414.80,544.54 L415.30,544.48 L415.80,544.43 L416.30,544.38 L416.80,544.33 L417.30,544.27 L417.80,544.22 L418.30,544.17 L418.81,544.12 L419.31,544.07 L419.81,544.02 L420.31,543.97 L420.81,543.92 L421.31,543.87 L421.81,543.81 L422.31,543.76 L422.81,543.71 L423.31,543.65 L423.81,543.60 L424.31,543.54 L424.81,543.48 L425.31,543.43 L425.81,543.37 L426.31,543.31 L426.81,543.25 L427.31,543.19 L427.81,543.13 L428.31,543.06 L428.81,543.00 L429.31,542.94 L429.81,542.87 L430.31,542.81 L430.81,542.74 L431.32,542.68 L431.82,542.61 L432.32,542.54 L432.82,542.47 L433.32,542.40 L433.82,542.33 L434.32,542.26 L434.82,542.19 L435.32,542.12 L435.82,542.05 L436.32,541.97 L436.82,541.90 L437.32,541.83 L437.82,541.75 L438.32,541.68 L438.82,541.60 L439.32,541.52 L439.82,541.45 L440.32,541.37 L440.82,541.29 L441.32,541.21 L441.82,541.13 L442.32,541.05 L442.82,540.97 L443.32,540.89 L443.82,540.81 L444.33,540.73 L444.83,540.65 L445.33,540.57 L445.83,540.48 L446.33,540.40 L446.83,540.32 L447.33,540.23 L447.83,540.15 L448.33,540.06 L448.83,539.98 L449.33,539.89 L449.83,539.80 L450.33,539.72 L450.83,539.63 L451.33,539.54 L451.83,539.45 L452.33,539.35 L452.83,539.26 L453.33,539.17 L453.83,539.07 L454.33,538.97 L454.83,538.88 L455.33,538.78 L455.83,538.68 L456.33,538.58 L456.84,538.48 L457.34,538.38 L457.84,538.27 L458.34,538.17 L458.84,538.07 L459.34,537.96 L459.84,537.86 L460.34,537.75 L460.84,537.64 L461.34,537.53 L461.84,537.42 L462.34,537.31 L462.84,537.20 L463.34,537.09 L463.84,536.98 L464.34,536.87 L464.84,536.75 L465.34,536.64 L465.84,536.52 L466.34,536.41 L466.84,536.29 L467.34,536.17 L467.84,536.05 L468.34,535.94 L468.84,535.82 L469.34,535.70 L469.85,535.58 L470.35,535.45 L470.85,535.33 L471.35,535.21 L471.85,535.09 L472.35,534.96 L472.85,534.84 L473.35,534.71 L473.85,534.59 L474.35,534.46 L474.85,534.34 L475.35,534.21 L475.85,534.08 L476.35,533.95 L476.85,533.83 L477.35,533.70 L477.85,533.57 L478.35,533.44 L478.85,533.31 L479.35,533.17 L479.85,533.04 L480.35,532.91 L480.85,532.77 L481.35,532.63 L481.85,532.50 L482.36,532.36 L482.86,532.22 L483.36,532.08 L483.86,531.93 L484.36,531.79 L484.86,531.64 L485.36,531.50 L485.86,531.35 L486.36,531.20 L486.86,531.06 L487.36,530.91 L487.86,530.75 L488.36,530.60 L488.86,530.45 L489.36,530.30 L489.86,530.14 L490.36,529.99 L490.86,529.83 L491.36,529.67 L491.86,529.52 L492.36,529.36 L492.86,529.20 L493.36,529.04 L493.86,528.88 L494.36,528.71 L494.86,528.55 L495.37,528.39 L495.87,528.22 L496.37,528.06 L496.87,527.89 L497.37,527.73 L497.87,527.56 L498.37,527.40 L498.87,527.23 L499.37,527.06 L499.87,526.89 L500.37,526.72 L500.87,526.55 L501.37,526.38 L501.87,526.21 L502.37,526.04 L502.87,525.87 L503.37,525.69 L503.87,525.52 L504.37,525.35 L504.87,525.18 L505.37,525.00 L505.87,524.83 L506.37,524.65 L506.87,524.48 L507.37,524.30 L507.88,524.13 L508.38,523.95 L508.88,523.77 L509.38,523.60 L509.88,523.42 L510.38,523.24 L510.88,523.06 L511.38,522.87 L511.88,522.69 L512.38,522.51 L512.88,522.33 L513.38,522.14 L513.88,521.95 L514.38,521.77 L514.88,521.58 L515.38,521.39 L515.88,521.20 L516.38,521.01 L516.88,520.82 L517.38,520.63 L517.88,520.44 L518.38,520.25 L518.88,520.06 L519.38,519.86 L519.88,519.67 L520.38,519.47 L520.89,519.28 L521.39,519.08 L521.89,518.88 L522.39,518.68 L522.89,518.48 L523.39,518.28 L523.89,518.08 L524.39,517.88 L524.89,517.68 L525.39,517.48 L525.89,517.27 L526.39,517.07 L526.89,516.87 L527.39,516.66 L527.89,516.46 L528.39,516.25 L528.89,516.04 L529.39,515.84 L529.89,515.63 L530.39,515.42 L530.89,515.21 L531.39,515.00 L531.89,514.79 L532.39,514.58 L532.89,514.36 L533.40,514.15 L533.90,513.94 L534.40,513.73 L534.90,513.51 L535.40,513.30 L535.90,513.08 L536.40,512.87 L536.90,512.65 L537.40,512.43 L537.90,512.22 L538.40,512.00 L538.90,511.78 L539.40,511.57 L539.90,511.35 L540.40,511.13 L540.90,510.91 L541.40,510.70 L541.90,510.48 L542.40,510.26 L542.90,510.04 L543.40,509.82 L543.90,509.60 L544.40,509.38 L544.90,509.16 L545.40,508.94 L545.91,508.71 L546.41,508.49 L546.91,508.27 L547.41,508.04 L547.91,507.82 L548.41,507.59 L548.91,507.36 L549.41,507.14 L549.91,506.91 L550.41,506.68 L550.91,506.44 L551.41,506.21 L551.91,505.98 L552.41,505.74 L552.91,505.51 L553.41,505.27 L553.91,505.03 L554.41,504.79 L554.91,504.55 L555.41,504.31 L555.91,504.06 L556.41,503.82 L556.91,503.57 L557.41,503.32 L557.91,503.07 L558.41,502.82 L558.92,502.57 L559.42,502.31 L559.92,502.05 L560.42,501.79 L560.92,501.53 L561.42,501.27 L561.92,501.00 L562.42,500.74 L562.92,500.47 L563.42,500.20 L563.92,499.92 L564.42,499.65 L564.92,499.37 L565.42,499.09 L565.92,498.81 L566.42,498.53 L566.92,498.24 L567.42,497.94 L567.92,497.64 L568.42,497.33 L568.92,497.02 L569.42,496.70 L569.92,496.37 L570.42,496.04 L570.92,495.70 L571.43,495.36 L571.93,495.02 L572.43,494.68 L572.93,494.33 L573.43,493.98 L573.93,493.63 L574.43,493.28 L574.93,492.93 L575.43,490.05 L575.93,487.32 L576.43,484.82 L576.93,482.51 L577.44,480.32 L577.94,478.23 L578.44,476.21 L578.94,474.23 L579.44,472.28 L579.94,470.39 L580.45,468.55 L580.95,466.75 L581.45,464.96 L581.95,463.17 L582.45,461.35 L582.95,459.49 L583.45,457.60 L583.96,455.70 L584.46,453.81 L584.96,451.95 L585.46,450.14 L585.96,448.39 L586.46,446.75 L586.97,445.18 L587.47,443.66 L587.97,442.19 L588.47,440.77 L588.97,439.40 L589.47,438.08 L589.97,436.82 L590.48,435.61 L590.98,434.45 L591.48,433.32 L591.98,432.23 L592.48,431.18 L592.98,430.15 L593.49,429.15 L593.99,428.17 L594.49,427.22 L594.99,426.28 L595.49,425.35 L595.99,424.42 L596.50,423.50 L597.00,422.61 L597.50,421.75 L598.00,420.93 L598.50,420.15 L599.00,419.43 L599.50,418.78 L600.01,418.17 L600.51,417.58 L601.01,417.00 L601.51,416.46 L602.01,415.93 L602.51,415.44 L603.02,414.96 L603.52,414.52 L604.02,414.11 L604.52,413.73 L605.02,413.38 L605.52,413.05 L606.03,412.72 L606.53,412.40 L607.03,412.09 L607.53,411.79 L608.03,411.49 L608.53,411.21 L609.03,410.94 L609.54,410.68 L610.04,410.44 L610.54,410.22 L611.04,410.02 L611.54,409.83 L612.04,409.67 L612.55,409.53 L613.05,409.41 L613.55,409.32 L614.05,409.24 L614.55,409.16 L615.05,409.08 L615.55,409.00 L616.06,408.93 L616.56,408.86 L617.06,408.79 L617.56,408.73 L618.06,408.67 L618.56,408.61 L619.07,408.56 L619.57,408.50 L620.07,408.46 L620.57,408.42 L621.07,408.38 L621.57,408.35 L622.08,408.32 L622.58,408.29 L623.08,408.27 L623.58,408.26 L624.08,408.25 L624.58,408.25 L648.47,408.25" fill="none" stroke="#c40a0a" stroke-width="1.75" stroke-linejoin="round" stroke-linecap="butt"/>
<text transform="translate(390.25,559.70) scale(1.05,1)" text-anchor="middle" font-family='"Liberation Sans", sans-serif' font-size="6.5" font-weight="bold" fill="#2a2a2a" stroke="#2a2a2a" stroke-width="0.12">0</text>
<text transform="translate(419.67,559.70) scale(1.05,1)" text-anchor="middle" font-family='"Liberation Sans", sans-serif' font-size="6.5" font-weight="bold" fill="#2a2a2a" stroke="#2a2a2a" stroke-width="0.12">50</text>
<text transform="translate(449.08,559.70) scale(1.05,1)" text-anchor="middle" font-family='"Liberation Sans", sans-serif' font-size="6.5" font-weight="bold" fill="#2a2a2a" stroke="#2a2a2a" stroke-width="0.12">100</text>
<text transform="translate(478.50,559.70) scale(1.05,1)" text-anchor="middle" font-family='"Liberation Sans", sans-serif' font-size="6.5" font-weight="bold" fill="#2a2a2a" stroke="#2a2a2a" stroke-width="0.12">150</text>
<text transform="translate(507.92,559.70) scale(1.05,1)" text-anchor="middle" font-family='"Liberation Sans", sans-serif' font-size="6.5" font-weight="bold" fill="#2a2a2a" stroke="#2a2a2a" stroke-width="0.12">200</text>
<text transform="translate(537.33,559.70) scale(1.05,1)" text-anchor="middle" font-family='"Liberation Sans", sans-serif' font-size="6.5" font-weight="bold" fill="#2a2a2a" stroke="#2a2a2a" stroke-width="0.12">250</text>
<text transform="translate(566.75,559.70) scale(1.05,1)" text-anchor="middle" font-family='"Liberation Sans", sans-serif' font-size="6.5" font-weight="bold" fill="#2a2a2a" stroke="#2a2a2a" stroke-width="0.12">300</text>
<text transform="translate(596.17,559.70) scale(1.05,1)" text-anchor="middle" font-family='"Liberation Sans", sans-serif' font-size="6.5" font-weight="bold" fill="#2a2a2a" stroke="#2a2a2a" stroke-width="0.12">350</text>
<text transform="translate(625.58,559.70) scale(1.05,1)" text-anchor="middle" font-family='"Liberation Sans", sans-serif' font-size="6.5" font-weight="bold" fill="#2a2a2a" stroke="#2a2a2a" stroke-width="0.12">400</text>
<text transform="translate(655.00,559.70) scale(1.05,1)" text-anchor="middle" font-family='"Liberation Sans", sans-serif' font-size="6.5" font-weight="bold" fill="#2a2a2a" stroke="#2a2a2a" stroke-width="0.12">450</text>
<text transform="translate(369.40,538.90) scale(1.04,1)" text-anchor="end" font-family='"Liberation Sans", sans-serif' font-size="6.5" font-weight="bold" fill="#2a2a2a" stroke="#2a2a2a" stroke-width="0.12">0.65</text>
<text transform="translate(369.40,520.65) scale(1.04,1)" text-anchor="end" font-family='"Liberation Sans", sans-serif' font-size="6.5" font-weight="bold" fill="#2a2a2a" stroke="#2a2a2a" stroke-width="0.12">0.70</text>
<text transform="translate(369.40,502.40) scale(1.04,1)" text-anchor="end" font-family='"Liberation Sans", sans-serif' font-size="6.5" font-weight="bold" fill="#2a2a2a" stroke="#2a2a2a" stroke-width="0.12">0.75</text>
<text transform="translate(369.40,484.15) scale(1.04,1)" text-anchor="end" font-family='"Liberation Sans", sans-serif' font-size="6.5" font-weight="bold" fill="#2a2a2a" stroke="#2a2a2a" stroke-width="0.12">0.80</text>
<text transform="translate(369.40,465.90) scale(1.04,1)" text-anchor="end" font-family='"Liberation Sans", sans-serif' font-size="6.5" font-weight="bold" fill="#2a2a2a" stroke="#2a2a2a" stroke-width="0.12">0.85</text>
<text transform="translate(369.40,447.65) scale(1.04,1)" text-anchor="end" font-family='"Liberation Sans", sans-serif' font-size="6.5" font-weight="bold" fill="#2a2a2a" stroke="#2a2a2a" stroke-width="0.12">0.90</text>
<text transform="translate(369.40,429.40) scale(1.04,1)" text-anchor="end" font-family='"Liberation Sans", sans-serif' font-size="6.5" font-weight="bold" fill="#2a2a2a" stroke="#2a2a2a" stroke-width="0.12">0.95</text>
<text transform="translate(369.40,411.15) scale(1.04,1)" text-anchor="end" font-family='"Liberation Sans", sans-serif' font-size="6.5" font-weight="bold" fill="#2a2a2a" stroke="#2a2a2a" stroke-width="0.12">1.00</text>
<path d="M51.30,669.17 L73.32,669.17 L103.48,662.22 L249.46,662.22 L287.78,599.69 L293.50,736.23 L315.52,736.23" fill="none" stroke="#d80a0a" stroke-width="1.9" stroke-linejoin="round" stroke-linecap="butt"/>
<text transform="translate(51.30,752.00) scale(1.05,1)" text-anchor="middle" font-family='"Liberation Sans", sans-serif' font-size="6.5" font-weight="bold" fill="#1a1a1a" stroke="#1a1a1a" stroke-width="0.05">-0.1</text>
<text transform="translate(73.32,752.00) scale(1.05,1)" text-anchor="middle" font-family='"Liberation Sans", sans-serif' font-size="6.5" font-weight="bold" fill="#1a1a1a" stroke="#1a1a1a" stroke-width="0.05">0.0</text>
<text transform="translate(95.34,752.00) scale(1.05,1)" text-anchor="middle" font-family='"Liberation Sans", sans-serif' font-size="6.5" font-weight="bold" fill="#1a1a1a" stroke="#1a1a1a" stroke-width="0.05">0.1</text>
<text transform="translate(117.35,752.00) scale(1.05,1)" text-anchor="middle" font-family='"Liberation Sans", sans-serif' font-size="6.5" font-weight="bold" fill="#1a1a1a" stroke="#1a1a1a" stroke-width="0.05">0.2</text>
<text transform="translate(139.37,752.00) scale(1.05,1)" text-anchor="middle" font-family='"Liberation Sans", sans-serif' font-size="6.5" font-weight="bold" fill="#1a1a1a" stroke="#1a1a1a" stroke-width="0.05">0.3</text>
<text transform="translate(161.39,752.00) scale(1.05,1)" text-anchor="middle" font-family='"Liberation Sans", sans-serif' font-size="6.5" font-weight="bold" fill="#1a1a1a" stroke="#1a1a1a" stroke-width="0.05">0.4</text>
<text transform="translate(183.41,752.00) scale(1.05,1)" text-anchor="middle" font-family='"Liberation Sans", sans-serif' font-size="6.5" font-weight="bold" fill="#1a1a1a" stroke="#1a1a1a" stroke-width="0.05">0.5</text>
<text transform="translate(205.43,752.00) scale(1.05,1)" text-anchor="middle" font-family='"Liberation Sans", sans-serif' font-size="6.5" font-weight="bold" fill="#1a1a1a" stroke="#1a1a1a" stroke-width="0.05">0.6</text>
<text transform="translate(227.45,752.00) scale(1.05,1)" text-anchor="middle" font-family='"Liberation Sans", sans-serif' font-size="6.5" font-weight="bold" fill="#1a1a1a" stroke="#1a1a1a" stroke-width="0.05">0.7</text>
<text transform="translate(249.46,752.00) scale(1.05,1)" text-anchor="middle" font-family='"Liberation Sans", sans-serif' font-size="6.5" font-weight="bold" fill="#1a1a1a" stroke="#1a1a1a" stroke-width="0.05">0.8</text>
<text transform="translate(271.48,752.00) scale(1.05,1)" text-anchor="middle" font-family='"Liberation Sans", sans-serif' font-size="6.5" font-weight="bold" fill="#1a1a1a" stroke="#1a1a1a" stroke-width="0.05">0.9</text>
<text transform="translate(293.50,752.00) scale(1.05,1)" text-anchor="middle" font-family='"Liberation Sans", sans-serif' font-size="6.5" font-weight="bold" fill="#1a1a1a" stroke="#1a1a1a" stroke-width="0.05">1.0</text>
<text transform="translate(315.52,752.00) scale(1.05,1)" text-anchor="middle" font-family='"Liberation Sans", sans-serif' font-size="6.5" font-weight="bold" fill="#1a1a1a" stroke="#1a1a1a" stroke-width="0.05">1.1</text>
<text transform="translate(35.60,742.15) scale(1.04,1)" text-anchor="end" font-family='"Liberation Sans", sans-serif' font-size="6.5" font-weight="bold" fill="#000" stroke="#000" stroke-width="0.3">0.56</text>
<text transform="translate(35.60,730.07) scale(1.04,1)" text-anchor="end" font-family='"Liberation Sans", sans-serif' font-size="6.5" font-weight="bold" fill="#000" stroke="#000" stroke-width="0.3">0.58</text>
<text transform="translate(35.60,717.98) scale(1.04,1)" text-anchor="end" font-family='"Liberation Sans", sans-serif' font-size="6.5" font-weight="bold" fill="#000" stroke="#000" stroke-width="0.3">0.60</text>
<text transform="translate(35.60,705.90) scale(1.04,1)" text-anchor="end" font-family='"Liberation Sans", sans-serif' font-size="6.5" font-weight="bold" fill="#000" stroke="#000" stroke-width="0.3">0.62</text>
<text transform="translate(35.60,693.82) scale(1.04,1)" text-anchor="end" font-family='"Liberation Sans", sans-serif' font-size="6.5" font-weight="bold" fill="#000" stroke="#000" stroke-width="0.3">0.64</text>
<text transform="translate(35.60,681.73) scale(1.04,1)" text-anchor="end" font-family='"Liberation Sans", sans-serif' font-size="6.5" font-weight="bold" fill="#000" stroke="#000" stroke-width="0.3">0.66</text>
<text transform="translate(35.60,669.65) scale(1.04,1)" text-anchor="end" font-family='"Liberation Sans", sans-serif' font-size="6.5" font-weight="bold" fill="#000" stroke="#000" stroke-width="0.3">0.68</text>
<text transform="translate(35.60,657.57) scale(1.04,1)" text-anchor="end" font-family='"Liberation Sans", sans-serif' font-size="6.5" font-weight="bold" fill="#000" stroke="#000" stroke-width="0.3">0.70</text>
<text transform="translate(35.60,645.48) scale(1.04,1)" text-anchor="end" font-family='"Liberation Sans", sans-serif' font-size="6.5" font-weight="bold" fill="#000" stroke="#000" stroke-width="0.3">0.72</text>
<text transform="translate(35.60,633.40) scale(1.04,1)" text-anchor="end" font-family='"Liberation Sans", sans-serif' font-size="6.5" font-weight="bold" fill="#000" stroke="#000" stroke-width="0.3">0.74</text>
<text transform="translate(35.60,621.32) scale(1.04,1)" text-anchor="end" font-family='"Liberation Sans", sans-serif' font-size="6.5" font-weight="bold" fill="#000" stroke="#000" stroke-width="0.3">0.76</text>
<text transform="translate(35.60,609.23) scale(1.04,1)" text-anchor="end" font-family='"Liberation Sans", sans-serif' font-size="6.5" font-weight="bold" fill="#000" stroke="#000" stroke-width="0.3">0.78</text>
<text transform="translate(35.60,597.15) scale(1.04,1)" text-anchor="end" font-family='"Liberation Sans", sans-serif' font-size="6.5" font-weight="bold" fill="#000" stroke="#000" stroke-width="0.3">0.80</text>
<path d="M389.60,598.98 L523.57,598.98 L523.57,599.14 L525.28,602.03 L527.00,604.91 L528.71,607.77 L530.43,610.62 L532.14,613.45 L533.86,616.27 L535.57,619.07 L537.28,621.85 L539.00,624.62 L540.71,627.37 L542.43,630.11 L544.14,632.82 L545.86,635.52 L547.57,638.19 L549.29,640.85 L551.00,643.49 L552.72,646.10 L554.43,648.70 L556.15,651.27 L557.86,653.82 L559.58,656.35 L561.29,658.85 L563.01,661.33 L564.72,663.79 L566.44,666.22 L568.15,668.63 L569.87,671.01 L571.58,673.37 L573.30,675.70 L575.01,678.00 L576.72,680.27 L578.44,682.52 L580.15,684.74 L581.87,686.93 L583.58,689.09 L585.30,691.22 L587.01,693.32 L588.73,695.39 L590.44,697.43 L592.16,699.44 L593.87,701.42 L595.59,703.36 L597.30,705.27 L599.02,707.14 L600.73,708.98 L602.45,710.79 L604.16,712.56 L605.88,714.30 L607.59,716.00 L609.31,717.67 L611.02,719.29 L612.74,720.88 L614.45,722.44 L616.16,723.95 L617.88,725.43 L619.59,726.86 L621.31,728.26 L623.02,729.61 L624.74,730.93 L626.45,732.20 L626.45,732.27 L648.31,732.27" fill="none" stroke="#c40a0a" stroke-width="1.75" stroke-linejoin="round" stroke-linecap="butt"/>
<text transform="translate(402.00,748.00) scale(1.08,1)" text-anchor="middle" font-family='"Liberation Sans", sans-serif' font-size="6.2" font-weight="bold" fill="#000" stroke="#000" stroke-width="0.3">0</text>
<text transform="translate(438.92,748.00) scale(1.08,1)" text-anchor="middle" font-family='"Liberation Sans", sans-serif' font-size="6.2" font-weight="bold" fill="#000" stroke="#000" stroke-width="0.3">1000</text>
<text transform="translate(475.83,748.00) scale(1.08,1)" text-anchor="middle" font-family='"Liberation Sans", sans-serif' font-size="6.2" font-weight="bold" fill="#000" stroke="#000" stroke-width="0.3">2000</text>
<text transform="translate(512.75,748.00) scale(1.08,1)" text-anchor="middle" font-family='"Liberation Sans", sans-serif' font-size="6.2" font-weight="bold" fill="#000" stroke="#000" stroke-width="0.3">3000</text>
<text transform="translate(549.67,748.00) scale(1.08,1)" text-anchor="middle" font-family='"Liberation Sans", sans-serif' font-size="6.2" font-weight="bold" fill="#000" stroke="#000" stroke-width="0.3">4000</text>
<text transform="translate(586.58,748.00) scale(1.08,1)" text-anchor="middle" font-family='"Liberation Sans", sans-serif' font-size="6.2" font-weight="bold" fill="#000" stroke="#000" stroke-width="0.3">5000</text>
<text transform="translate(623.50,748.00) scale(1.08,1)" text-anchor="middle" font-family='"Liberation Sans", sans-serif' font-size="6.2" font-weight="bold" fill="#000" stroke="#000" stroke-width="0.3">6000</text>
<text transform="translate(660.42,748.00) scale(1.08,1)" text-anchor="middle" font-family='"Liberation Sans", sans-serif' font-size="6.2" font-weight="bold" fill="#000" stroke="#000" stroke-width="0.3">7000</text>
<text transform="translate(374.50,730.40) scale(1.04,1)" text-anchor="end" font-family='"Liberation Sans", sans-serif' font-size="6.5" font-weight="bold" fill="#000" stroke="#000" stroke-width="0.3">0.20</text>
<text transform="translate(374.50,717.15) scale(1.04,1)" text-anchor="end" font-family='"Liberation Sans", sans-serif' font-size="6.5" font-weight="bold" fill="#000" stroke="#000" stroke-width="0.3">0.25</text>
<text transform="translate(374.50,703.90) scale(1.04,1)" text-anchor="end" font-family='"Liberation Sans", sans-serif' font-size="6.5" font-weight="bold" fill="#000" stroke="#000" stroke-width="0.3">0.30</text>
<text transform="translate(374.50,690.65) scale(1.04,1)" text-anchor="end" font-family='"Liberation Sans", sans-serif' font-size="6.5" font-weight="bold" fill="#000" stroke="#000" stroke-width="0.3">0.35</text>
<text transform="translate(374.50,677.40) scale(1.04,1)" text-anchor="end" font-family='"Liberation Sans", sans-serif' font-size="6.5" font-weight="bold" fill="#000" stroke="#000" stroke-width="0.3">0.40</text>
<text transform="translate(374.50,664.15) scale(1.04,1)" text-anchor="end" font-family='"Liberation Sans", sans-serif' font-size="6.5" font-weight="bold" fill="#000" stroke="#000" stroke-width="0.3">0.45</text>
<text transform="translate(374.50,650.90) scale(1.04,1)" text-anchor="end" font-family='"Liberation Sans", sans-serif' font-size="6.5" font-weight="bold" fill="#000" stroke="#000" stroke-width="0.3">0.50</text>
<text transform="translate(374.50,637.65) scale(1.04,1)" text-anchor="end" font-family='"Liberation Sans", sans-serif' font-size="6.5" font-weight="bold" fill="#000" stroke="#000" stroke-width="0.3">0.55</text>
<text transform="translate(374.50,624.40) scale(1.04,1)" text-anchor="end" font-family='"Liberation Sans", sans-serif' font-size="6.5" font-weight="bold" fill="#000" stroke="#000" stroke-width="0.3">0.60</text>
<text transform="translate(374.50,611.15) scale(1.04,1)" text-anchor="end" font-family='"Liberation Sans", sans-serif' font-size="6.5" font-weight="bold" fill="#000" stroke="#000" stroke-width="0.3">0.65</text>
<text transform="translate(374.50,597.90) scale(1.04,1)" text-anchor="end" font-family='"Liberation Sans", sans-serif' font-size="6.5" font-weight="bold" fill="#000" stroke="#000" stroke-width="0.3">0.70</text>
<text x="114.70" y="15.30" font-family='"Liberation Serif", serif' font-size="12.4" font-weight="bold" fill="#000" stroke="#000" stroke-width="0.2" textLength="98.30" lengthAdjust="spacingAndGlyphs" >Response to Aspect</text>
<text x="394.20" y="15.30" font-family='"Liberation Serif", serif' font-size="12.4" font-weight="bold" fill="#000" stroke="#000" stroke-width="0.2" textLength="173.90" lengthAdjust="spacingAndGlyphs" >Response to Mean Diurnal Range</text>
<text x="83.10" y="208.60" font-family='"Liberation Serif", serif' font-size="12.4" font-weight="bold" fill="#000" stroke="#000" stroke-width="0.2" textLength="134.20" lengthAdjust="spacingAndGlyphs" >Response to Isothermality</text>
<text x="365.30" y="208.10" font-family='"Liberation Serif", serif' font-size="12.4" font-weight="bold" fill="#000" stroke="#000" stroke-width="0.2" textLength="266.60" lengthAdjust="spacingAndGlyphs" >Response to Mean Temperature of Wettest Quarter</text>
<text x="110.40" y="578.00" font-family='"Liberation Serif", serif' font-size="10.0" font-weight="bold" fill="#000" stroke="#000" stroke-width="0.2" textLength="105.30" lengthAdjust="spacingAndGlyphs" >Precipitation Seasonality</text>
<text x="415.50" y="573.90" font-family='"Liberation Serif", serif' font-size="10.6" font-weight="bold" fill="#000" stroke="#000" stroke-width="0.2" textLength="137.90" lengthAdjust="spacingAndGlyphs" >Precipitation of Coldest Quarter</text>
<text x="472.40" y="763.40" font-family='"Liberation Serif", serif' font-size="10.0" font-weight="bold" fill="#000" stroke="#000" stroke-width="0.2" textLength="39.70" lengthAdjust="spacingAndGlyphs" >Elevation</text>
<text x="170.30" y="187.10" font-family='"Liberation Sans", sans-serif' font-size="6.8" font-weight="bold" fill="#000" stroke="#000" stroke-width="0.2" textLength="20.70" lengthAdjust="spacingAndGlyphs" >aspect</text>
<text x="500.80" y="187.50" font-family='"Liberation Sans", sans-serif' font-size="6.8" font-weight="bold" fill="#000" stroke="#000" stroke-width="0.2" textLength="13.20" lengthAdjust="spacingAndGlyphs" >bio2</text>
<text x="175.80" y="381.40" font-family='"Liberation Sans", sans-serif' font-size="6.8" font-weight="bold" fill="#000" stroke="#000" stroke-width="0.2" textLength="13.10" lengthAdjust="spacingAndGlyphs" >bio3</text>
<text x="500.80" y="381.40" font-family='"Liberation Sans", sans-serif' font-size="6.8" font-weight="bold" fill="#000" stroke="#000" stroke-width="0.2" textLength="13.20" lengthAdjust="spacingAndGlyphs" >bio8</text>
<text x="113.90" y="763.60" font-family='"Liberation Sans", sans-serif' font-size="9.0" font-weight="bold" fill="#000" stroke="#000" stroke-width="0.2" textLength="48.60" lengthAdjust="spacingAndGlyphs" >Land cover</text>
<text x="0" y="0" transform="translate(14.40,104.70) rotate(-90)" font-family='"Liberation Sans", sans-serif' font-size="9.6" font-weight="bold" fill="#000" stroke="#000" stroke-width="0.3" textLength="48.80" lengthAdjust="spacingAndGlyphs" >Suitability</text>
<text x="0" y="0" transform="translate(344.40,102.90) rotate(-90)" font-family='"Liberation Sans", sans-serif' font-size="9.6" font-weight="bold" fill="#000" stroke="#000" stroke-width="0.3" textLength="49.00" lengthAdjust="spacingAndGlyphs" >Suitability</text>
<text x="0" y="0" transform="translate(14.40,299.80) rotate(-90)" font-family='"Liberation Sans", sans-serif' font-size="9.6" font-weight="bold" fill="#000" stroke="#000" stroke-width="0.3" textLength="48.80" lengthAdjust="spacingAndGlyphs" >Suitability</text>
<text x="0" y="0" transform="translate(344.40,294.70) rotate(-90)" font-family='"Liberation Sans", sans-serif' font-size="9.6" font-weight="bold" fill="#000" stroke="#000" stroke-width="0.3" textLength="49.10" lengthAdjust="spacingAndGlyphs" >Suitability</text>
<text x="0" y="0" transform="translate(14.90,492.90) rotate(-90)" font-family='"Liberation Sans", sans-serif' font-size="9.6" font-weight="bold" fill="#000" stroke="#000" stroke-width="0.3" textLength="48.40" lengthAdjust="spacingAndGlyphs" >Suitability</text>
<text x="0" y="0" transform="translate(352.40,485.00) rotate(-90)" font-family='"Liberation Sans", sans-serif' font-size="9.6" font-weight="bold" fill="#000" stroke="#000" stroke-width="0.3" textLength="48.40" lengthAdjust="spacingAndGlyphs" >Suitability</text>
<text x="0" y="0" transform="translate(16.60,674.60) rotate(-90)" font-family='"Liberation Sans", sans-serif' font-size="9.6" font-weight="bold" fill="#000" stroke="#000" stroke-width="0.3" textLength="48.20" lengthAdjust="spacingAndGlyphs" >Suitability</text>
<text x="0" y="0" transform="translate(355.80,665.80) rotate(-90)" font-family='"Liberation Sans", sans-serif' font-size="9.6" font-weight="bold" fill="#000" stroke="#000" stroke-width="0.3" textLength="48.30" lengthAdjust="spacingAndGlyphs" >Suitability</text>
<rect x="35.50" y="770.00" width="293.00" height="217.50" fill="#fefefe"/>
<line x1="80.00" y1="770.00" x2="80.00" y2="987.50" stroke="#3c3c3c" stroke-width="0.9"/>
<line x1="133.56" y1="770.00" x2="133.56" y2="987.50" stroke="#3c3c3c" stroke-width="0.9"/>
<line x1="187.12" y1="770.00" x2="187.12" y2="987.50" stroke="#3c3c3c" stroke-width="0.9"/>
<line x1="240.69" y1="770.00" x2="240.69" y2="987.50" stroke="#3c3c3c" stroke-width="0.9"/>
<line x1="294.25" y1="770.00" x2="294.25" y2="987.50" stroke="#3c3c3c" stroke-width="0.9"/>
<line x1="35.50" y1="952.00" x2="328.50" y2="952.00" stroke="#3c3c3c" stroke-width="0.9"/>
<line x1="35.50" y1="913.88" x2="328.50" y2="913.88" stroke="#3c3c3c" stroke-width="0.9"/>
<line x1="35.50" y1="875.75" x2="328.50" y2="875.75" stroke="#3c3c3c" stroke-width="0.9"/>
<line x1="35.50" y1="837.62" x2="328.50" y2="837.62" stroke="#3c3c3c" stroke-width="0.9"/>
<line x1="35.50" y1="799.50" x2="328.50" y2="799.50" stroke="#3c3c3c" stroke-width="0.9"/>
<rect x="35.50" y="770.00" width="293.00" height="217.50" fill="none" stroke="#1a1a1a" stroke-width="1.4"/>
<line x1="80.00" y1="987.50" x2="80.00" y2="985.50" stroke="#1a1a1a" stroke-width="1.2"/>
<line x1="80.00" y1="770.00" x2="80.00" y2="772.00" stroke="#1a1a1a" stroke-width="1.2"/>
<line x1="133.56" y1="987.50" x2="133.56" y2="985.50" stroke="#1a1a1a" stroke-width="1.2"/>
<line x1="133.56" y1="770.00" x2="133.56" y2="772.00" stroke="#1a1a1a" stroke-width="1.2"/>
<line x1="187.12" y1="987.50" x2="187.12" y2="985.50" stroke="#1a1a1a" stroke-width="1.2"/>
<line x1="187.12" y1="770.00" x2="187.12" y2="772.00" stroke="#1a1a1a" stroke-width="1.2"/>
<line x1="240.69" y1="987.50" x2="240.69" y2="985.50" stroke="#1a1a1a" stroke-width="1.2"/>
<line x1="240.69" y1="770.00" x2="240.69" y2="772.00" stroke="#1a1a1a" stroke-width="1.2"/>
<line x1="294.25" y1="987.50" x2="294.25" y2="985.50" stroke="#1a1a1a" stroke-width="1.2"/>
<line x1="294.25" y1="770.00" x2="294.25" y2="772.00" stroke="#1a1a1a" stroke-width="1.2"/>
<line x1="35.50" y1="952.00" x2="37.50" y2="952.00" stroke="#1a1a1a" stroke-width="1.2"/>
<line x1="328.50" y1="952.00" x2="326.50" y2="952.00" stroke="#1a1a1a" stroke-width="1.2"/>
<line x1="35.50" y1="913.88" x2="37.50" y2="913.88" stroke="#1a1a1a" stroke-width="1.2"/>
<line x1="328.50" y1="913.88" x2="326.50" y2="913.88" stroke="#1a1a1a" stroke-width="1.2"/>
<line x1="35.50" y1="875.75" x2="37.50" y2="875.75" stroke="#1a1a1a" stroke-width="1.2"/>
<line x1="328.50" y1="875.75" x2="326.50" y2="875.75" stroke="#1a1a1a" stroke-width="1.2"/>
<line x1="35.50" y1="837.62" x2="37.50" y2="837.62" stroke="#1a1a1a" stroke-width="1.2"/>
<line x1="328.50" y1="837.62" x2="326.50" y2="837.62" stroke="#1a1a1a" stroke-width="1.2"/>
<line x1="35.50" y1="799.50" x2="37.50" y2="799.50" stroke="#1a1a1a" stroke-width="1.2"/>
<line x1="328.50" y1="799.50" x2="326.50" y2="799.50" stroke="#1a1a1a" stroke-width="1.2"/>
<path d="M48.61,978.69 L70.52,978.69 L71.03,892.52 L133.56,860.73 L187.12,830.76 L240.69,804.08 L293.18,778.91 L314.07,778.91" fill="none" stroke="#fa0a0a" stroke-width="2.2" stroke-linejoin="round" stroke-linecap="butt"/>
<text transform="translate(80.00,1001.20) scale(0.8,1)" text-anchor="middle" font-family='"Liberation Sans", sans-serif' font-size="9.2" font-weight="normal" fill="#1a1a1a" stroke="#1a1a1a" stroke-width="0.35">4000</text>
<text transform="translate(133.56,1001.20) scale(0.8,1)" text-anchor="middle" font-family='"Liberation Sans", sans-serif' font-size="9.2" font-weight="normal" fill="#1a1a1a" stroke="#1a1a1a" stroke-width="0.35">6000</text>
<text transform="translate(187.12,1001.20) scale(0.8,1)" text-anchor="middle" font-family='"Liberation Sans", sans-serif' font-size="9.2" font-weight="normal" fill="#1a1a1a" stroke="#1a1a1a" stroke-width="0.35">8000</text>
<text transform="translate(240.69,1001.20) scale(0.8,1)" text-anchor="middle" font-family='"Liberation Sans", sans-serif' font-size="9.2" font-weight="normal" fill="#1a1a1a" stroke="#1a1a1a" stroke-width="0.35">10000</text>
<text transform="translate(294.25,1001.20) scale(0.8,1)" text-anchor="middle" font-family='"Liberation Sans", sans-serif' font-size="9.2" font-weight="normal" fill="#1a1a1a" stroke="#1a1a1a" stroke-width="0.35">12000</text>
<text transform="translate(32.20,955.20) scale(0.8,1)" text-anchor="end" font-family='"Liberation Sans", sans-serif' font-size="9.2" font-weight="normal" fill="#1a1a1a" stroke="#1a1a1a" stroke-width="0.35">0.60</text>
<text transform="translate(32.20,917.08) scale(0.8,1)" text-anchor="end" font-family='"Liberation Sans", sans-serif' font-size="9.2" font-weight="normal" fill="#1a1a1a" stroke="#1a1a1a" stroke-width="0.35">0.65</text>
<text transform="translate(32.20,878.95) scale(0.8,1)" text-anchor="end" font-family='"Liberation Sans", sans-serif' font-size="9.2" font-weight="normal" fill="#1a1a1a" stroke="#1a1a1a" stroke-width="0.35">0.70</text>
<text transform="translate(32.20,840.83) scale(0.8,1)" text-anchor="end" font-family='"Liberation Sans", sans-serif' font-size="9.2" font-weight="normal" fill="#1a1a1a" stroke="#1a1a1a" stroke-width="0.35">0.75</text>
<text transform="translate(32.20,802.70) scale(0.8,1)" text-anchor="end" font-family='"Liberation Sans", sans-serif' font-size="9.2" font-weight="normal" fill="#1a1a1a" stroke="#1a1a1a" stroke-width="0.35">0.80</text>
<rect x="375.25" y="770.00" width="293.55" height="217.50" fill="#fefefe"/>
<line x1="387.75" y1="770.00" x2="387.75" y2="987.50" stroke="#3c3c3c" stroke-width="0.9"/>
<line x1="410.54" y1="770.00" x2="410.54" y2="987.50" stroke="#3c3c3c" stroke-width="0.9"/>
<line x1="433.32" y1="770.00" x2="433.32" y2="987.50" stroke="#3c3c3c" stroke-width="0.9"/>
<line x1="456.11" y1="770.00" x2="456.11" y2="987.50" stroke="#3c3c3c" stroke-width="0.9"/>
<line x1="478.90" y1="770.00" x2="478.90" y2="987.50" stroke="#3c3c3c" stroke-width="0.9"/>
<line x1="501.69" y1="770.00" x2="501.69" y2="987.50" stroke="#3c3c3c" stroke-width="0.9"/>
<line x1="524.48" y1="770.00" x2="524.48" y2="987.50" stroke="#3c3c3c" stroke-width="0.9"/>
<line x1="547.26" y1="770.00" x2="547.26" y2="987.50" stroke="#3c3c3c" stroke-width="0.9"/>
<line x1="570.05" y1="770.00" x2="570.05" y2="987.50" stroke="#3c3c3c" stroke-width="0.9"/>
<line x1="592.84" y1="770.00" x2="592.84" y2="987.50" stroke="#3c3c3c" stroke-width="0.9"/>
<line x1="615.62" y1="770.00" x2="615.62" y2="987.50" stroke="#3c3c3c" stroke-width="0.9"/>
<line x1="638.41" y1="770.00" x2="638.41" y2="987.50" stroke="#3c3c3c" stroke-width="0.9"/>
<line x1="661.20" y1="770.00" x2="661.20" y2="987.50" stroke="#3c3c3c" stroke-width="0.9"/>
<line x1="375.25" y1="963.69" x2="668.80" y2="963.69" stroke="#3c3c3c" stroke-width="0.9"/>
<line x1="375.25" y1="939.89" x2="668.80" y2="939.89" stroke="#3c3c3c" stroke-width="0.9"/>
<line x1="375.25" y1="916.08" x2="668.80" y2="916.08" stroke="#3c3c3c" stroke-width="0.9"/>
<line x1="375.25" y1="892.28" x2="668.80" y2="892.28" stroke="#3c3c3c" stroke-width="0.9"/>
<line x1="375.25" y1="868.47" x2="668.80" y2="868.47" stroke="#3c3c3c" stroke-width="0.9"/>
<line x1="375.25" y1="844.67" x2="668.80" y2="844.67" stroke="#3c3c3c" stroke-width="0.9"/>
<line x1="375.25" y1="820.86" x2="668.80" y2="820.86" stroke="#3c3c3c" stroke-width="0.9"/>
<line x1="375.25" y1="797.06" x2="668.80" y2="797.06" stroke="#3c3c3c" stroke-width="0.9"/>
<line x1="375.25" y1="773.25" x2="668.80" y2="773.25" stroke="#3c3c3c" stroke-width="0.9"/>
<rect x="375.25" y="770.00" width="293.55" height="217.50" fill="none" stroke="#1a1a1a" stroke-width="1.4"/>
<line x1="387.75" y1="987.50" x2="387.75" y2="985.50" stroke="#1a1a1a" stroke-width="1.2"/>
<line x1="387.75" y1="770.00" x2="387.75" y2="772.00" stroke="#1a1a1a" stroke-width="1.2"/>
<line x1="410.54" y1="987.50" x2="410.54" y2="985.50" stroke="#1a1a1a" stroke-width="1.2"/>
<line x1="410.54" y1="770.00" x2="410.54" y2="772.00" stroke="#1a1a1a" stroke-width="1.2"/>
<line x1="433.32" y1="987.50" x2="433.32" y2="985.50" stroke="#1a1a1a" stroke-width="1.2"/>
<line x1="433.32" y1="770.00" x2="433.32" y2="772.00" stroke="#1a1a1a" stroke-width="1.2"/>
<line x1="456.11" y1="987.50" x2="456.11" y2="985.50" stroke="#1a1a1a" stroke-width="1.2"/>
<line x1="456.11" y1="770.00" x2="456.11" y2="772.00" stroke="#1a1a1a" stroke-width="1.2"/>
<line x1="478.90" y1="987.50" x2="478.90" y2="985.50" stroke="#1a1a1a" stroke-width="1.2"/>
<line x1="478.90" y1="770.00" x2="478.90" y2="772.00" stroke="#1a1a1a" stroke-width="1.2"/>
<line x1="501.69" y1="987.50" x2="501.69" y2="985.50" stroke="#1a1a1a" stroke-width="1.2"/>
<line x1="501.69" y1="770.00" x2="501.69" y2="772.00" stroke="#1a1a1a" stroke-width="1.2"/>
<line x1="524.48" y1="987.50" x2="524.48" y2="985.50" stroke="#1a1a1a" stroke-width="1.2"/>
<line x1="524.48" y1="770.00" x2="524.48" y2="772.00" stroke="#1a1a1a" stroke-width="1.2"/>
<line x1="547.26" y1="987.50" x2="547.26" y2="985.50" stroke="#1a1a1a" stroke-width="1.2"/>
<line x1="547.26" y1="770.00" x2="547.26" y2="772.00" stroke="#1a1a1a" stroke-width="1.2"/>
<line x1="570.05" y1="987.50" x2="570.05" y2="985.50" stroke="#1a1a1a" stroke-width="1.2"/>
<line x1="570.05" y1="770.00" x2="570.05" y2="772.00" stroke="#1a1a1a" stroke-width="1.2"/>
<line x1="592.84" y1="987.50" x2="592.84" y2="985.50" stroke="#1a1a1a" stroke-width="1.2"/>
<line x1="592.84" y1="770.00" x2="592.84" y2="772.00" stroke="#1a1a1a" stroke-width="1.2"/>
<line x1="615.62" y1="987.50" x2="615.62" y2="985.50" stroke="#1a1a1a" stroke-width="1.2"/>
<line x1="615.62" y1="770.00" x2="615.62" y2="772.00" stroke="#1a1a1a" stroke-width="1.2"/>
<line x1="638.41" y1="987.50" x2="638.41" y2="985.50" stroke="#1a1a1a" stroke-width="1.2"/>
<line x1="638.41" y1="770.00" x2="638.41" y2="772.00" stroke="#1a1a1a" stroke-width="1.2"/>
<line x1="661.20" y1="987.50" x2="661.20" y2="985.50" stroke="#1a1a1a" stroke-width="1.2"/>
<line x1="661.20" y1="770.00" x2="661.20" y2="772.00" stroke="#1a1a1a" stroke-width="1.2"/>
<line x1="375.25" y1="987.50" x2="377.25" y2="987.50" stroke="#1a1a1a" stroke-width="1.2"/>
<line x1="668.80" y1="987.50" x2="666.80" y2="987.50" stroke="#1a1a1a" stroke-width="1.2"/>
<line x1="375.25" y1="963.69" x2="377.25" y2="963.69" stroke="#1a1a1a" stroke-width="1.2"/>
<line x1="668.80" y1="963.69" x2="666.80" y2="963.69" stroke="#1a1a1a" stroke-width="1.2"/>
<line x1="375.25" y1="939.89" x2="377.25" y2="939.89" stroke="#1a1a1a" stroke-width="1.2"/>
<line x1="668.80" y1="939.89" x2="666.80" y2="939.89" stroke="#1a1a1a" stroke-width="1.2"/>
<line x1="375.25" y1="916.08" x2="377.25" y2="916.08" stroke="#1a1a1a" stroke-width="1.2"/>
<line x1="668.80" y1="916.08" x2="666.80" y2="916.08" stroke="#1a1a1a" stroke-width="1.2"/>
<line x1="375.25" y1="892.28" x2="377.25" y2="892.28" stroke="#1a1a1a" stroke-width="1.2"/>
<line x1="668.80" y1="892.28" x2="666.80" y2="892.28" stroke="#1a1a1a" stroke-width="1.2"/>
<line x1="375.25" y1="868.47" x2="377.25" y2="868.47" stroke="#1a1a1a" stroke-width="1.2"/>
<line x1="668.80" y1="868.47" x2="666.80" y2="868.47" stroke="#1a1a1a" stroke-width="1.2"/>
<line x1="375.25" y1="844.67" x2="377.25" y2="844.67" stroke="#1a1a1a" stroke-width="1.2"/>
<line x1="668.80" y1="844.67" x2="666.80" y2="844.67" stroke="#1a1a1a" stroke-width="1.2"/>
<line x1="375.25" y1="820.86" x2="377.25" y2="820.86" stroke="#1a1a1a" stroke-width="1.2"/>
<line x1="668.80" y1="820.86" x2="666.80" y2="820.86" stroke="#1a1a1a" stroke-width="1.2"/>
<line x1="375.25" y1="797.06" x2="377.25" y2="797.06" stroke="#1a1a1a" stroke-width="1.2"/>
<line x1="668.80" y1="797.06" x2="666.80" y2="797.06" stroke="#1a1a1a" stroke-width="1.2"/>
<line x1="375.25" y1="773.25" x2="377.25" y2="773.25" stroke="#1a1a1a" stroke-width="1.2"/>
<line x1="668.80" y1="773.25" x2="666.80" y2="773.25" stroke="#1a1a1a" stroke-width="1.2"/>
<path d="M387.75,780.11 L408.26,780.11 L408.76,780.11 L409.26,780.12 L409.76,780.13 L410.26,780.15 L410.76,780.17 L411.26,780.20 L411.76,780.23 L412.26,780.26 L412.76,780.29 L413.26,780.33 L413.76,780.38 L414.26,780.45 L414.77,780.52 L415.27,780.61 L415.77,780.71 L416.27,780.81 L416.77,780.92 L417.27,781.04 L417.77,781.17 L418.27,781.30 L418.77,781.43 L419.27,781.57 L419.77,781.70 L420.27,781.84 L420.77,781.98 L421.27,782.12 L421.77,782.25 L422.27,782.39 L422.77,782.53 L423.27,782.67 L423.77,782.82 L424.28,782.97 L424.78,783.13 L425.28,783.29 L425.78,783.45 L426.28,783.62 L426.78,783.79 L427.28,783.96 L427.78,784.14 L428.28,784.31 L428.78,784.49 L429.28,784.68 L429.78,784.86 L430.28,785.05 L430.78,785.23 L431.28,785.42 L431.78,785.61 L432.28,785.80 L432.78,785.99 L433.28,786.18 L433.78,786.38 L434.29,786.57 L434.79,786.77 L435.29,786.97 L435.79,787.18 L436.29,787.39 L436.79,787.60 L437.29,787.81 L437.79,788.03 L438.29,788.24 L438.79,788.46 L439.29,788.68 L439.79,788.90 L440.29,789.12 L440.79,789.35 L441.29,789.57 L441.79,789.79 L442.29,790.02 L442.79,790.24 L443.29,790.47 L443.80,790.69 L444.30,790.92 L444.80,791.14 L445.30,791.36 L445.80,791.58 L446.30,791.81 L446.80,792.03 L447.30,792.25 L447.80,792.48 L448.30,792.70 L448.80,792.93 L449.30,793.16 L449.80,793.38 L450.30,793.61 L450.80,793.84 L451.30,794.07 L451.80,794.30 L452.30,794.53 L452.80,794.77 L453.30,795.00 L453.81,795.24 L454.31,795.47 L454.81,795.71 L455.31,795.95 L455.81,796.19 L456.31,796.44 L456.81,796.68 L457.31,796.92 L457.81,797.17 L458.31,797.41 L458.81,797.66 L459.31,797.90 L459.81,798.15 L460.31,798.39 L460.81,798.64 L461.31,798.89 L461.81,799.14 L462.31,799.38 L462.81,799.63 L463.31,799.88 L463.82,800.14 L464.32,800.39 L464.82,800.64 L465.32,800.89 L465.82,801.15 L466.32,801.40 L466.82,801.66 L467.32,801.92 L467.82,802.18 L468.32,802.44 L468.82,802.70 L469.32,802.96 L469.82,803.22 L470.32,803.49 L470.82,803.76 L471.32,804.02 L471.82,804.29 L472.32,804.56 L472.82,804.84 L473.33,805.11 L473.83,805.39 L474.33,805.67 L474.83,805.95 L475.33,806.23 L475.83,806.51 L476.33,806.80 L476.83,807.08 L477.33,807.37 L477.83,807.66 L478.33,807.96 L478.83,808.25 L479.33,808.55 L479.83,808.85 L480.33,809.15 L480.83,809.45 L481.33,809.76 L481.83,810.07 L482.33,810.38 L482.83,810.69 L483.34,811.01 L483.84,811.32 L484.34,811.64 L484.84,811.96 L485.34,812.28 L485.84,812.61 L486.34,812.94 L486.84,813.26 L487.34,813.59 L487.84,813.93 L488.34,814.26 L488.84,814.60 L489.34,814.94 L489.84,815.28 L490.34,815.62 L490.84,815.96 L491.34,816.31 L491.84,816.65 L492.34,817.00 L492.85,817.35 L493.35,817.70 L493.85,818.06 L494.35,818.41 L494.85,818.77 L495.35,819.13 L495.85,819.49 L496.35,819.85 L496.85,820.22 L497.35,820.58 L497.85,820.95 L498.35,821.32 L498.85,821.69 L499.35,822.06 L499.85,822.43 L500.35,822.81 L500.85,823.18 L501.35,823.56 L501.85,823.94 L502.35,824.32 L502.86,824.70 L503.36,825.09 L503.86,825.48 L504.36,825.87 L504.86,826.26 L505.36,826.66 L505.86,827.05 L506.36,827.45 L506.86,827.86 L507.36,828.26 L507.86,828.67 L508.36,829.08 L508.86,829.49 L509.36,829.90 L509.86,830.31 L510.36,830.73 L510.86,831.15 L511.36,831.57 L511.86,831.99 L512.37,832.42 L512.87,832.85 L513.37,833.27 L513.87,833.71 L514.37,834.14 L514.87,834.57 L515.37,835.01 L515.87,835.45 L516.37,835.89 L516.87,836.33 L517.37,836.77 L517.87,837.22 L518.37,837.66 L518.87,838.11 L519.37,838.56 L519.87,839.01 L520.37,839.47 L520.87,839.92 L521.37,840.38 L521.87,840.84 L522.38,841.30 L522.88,841.76 L523.38,842.22 L523.88,842.68 L524.38,843.15 L524.88,843.61 L525.38,844.08 L525.88,844.56 L526.38,845.03 L526.88,845.51 L527.38,845.99 L527.88,846.47 L528.38,846.95 L528.88,847.44 L529.38,847.93 L529.88,848.42 L530.38,848.91 L530.88,849.41 L531.38,849.90 L531.89,850.40 L532.39,850.90 L532.89,851.41 L533.39,851.91 L533.89,852.42 L534.39,852.93 L534.89,853.44 L535.39,853.96 L535.89,854.47 L536.39,854.99 L536.89,855.51 L537.39,856.03 L537.89,856.55 L538.39,857.07 L538.89,857.60 L539.39,858.13 L539.89,858.66 L540.39,859.19 L540.89,859.72 L541.39,860.25 L541.90,860.79 L542.40,861.33 L542.90,861.86 L543.40,862.40 L543.90,862.95 L544.40,863.49 L544.90,864.03 L545.40,864.58 L545.90,865.12 L546.40,865.67 L546.90,866.22 L547.40,866.77 L547.90,867.32 L548.40,867.87 L548.90,868.43 L549.40,868.99 L549.90,869.55 L550.40,870.11 L550.90,870.68 L551.40,871.24 L551.91,871.81 L552.41,872.38 L552.91,872.96 L553.41,873.53 L553.91,874.11 L554.41,874.69 L554.91,875.27 L555.41,875.85 L555.91,876.44 L556.41,877.02 L556.91,877.61 L557.41,878.20 L557.91,878.79 L558.41,879.39 L558.91,879.98 L559.41,880.58 L559.91,881.17 L560.41,881.77 L560.91,882.37 L561.42,882.98 L561.92,883.58 L562.42,884.19 L562.92,884.79 L563.42,885.40 L563.92,886.01 L564.42,886.62 L564.92,887.23 L565.42,887.84 L565.92,888.46 L566.42,889.07 L566.92,889.69 L567.42,890.31 L567.92,890.92 L568.42,891.54 L568.92,892.16 L569.42,892.78 L569.92,893.41 L570.42,894.03 L570.92,894.65 L571.43,895.28 L571.93,895.91 L572.43,896.54 L572.93,897.18 L573.43,897.81 L573.93,898.45 L574.43,899.09 L574.93,899.73 L575.43,900.37 L575.93,901.01 L576.43,901.66 L576.93,902.30 L577.43,902.95 L577.93,903.60 L578.43,904.25 L578.93,904.91 L579.43,905.56 L579.93,906.22 L580.43,906.88 L580.94,907.53 L581.44,908.19 L581.94,908.85 L582.44,909.52 L582.94,910.18 L583.44,910.84 L583.94,911.51 L584.44,912.17 L584.94,912.84 L585.44,913.51 L585.94,914.18 L586.44,914.85 L586.94,915.52 L587.44,916.19 L587.94,916.86 L588.44,917.53 L588.94,918.21 L589.44,918.88 L589.94,919.56 L590.44,920.23 L590.95,920.91 L591.45,921.58 L591.95,922.26 L592.45,922.93 L592.95,923.61 L593.45,924.29 L593.95,924.97 L594.45,925.65 L594.95,926.33 L595.45,927.02 L595.95,927.70 L596.45,928.39 L596.95,929.08 L597.45,929.77 L597.95,930.46 L598.45,931.15 L598.95,931.84 L599.45,932.53 L599.95,933.23 L600.46,933.92 L600.96,934.62 L601.46,935.32 L601.96,936.01 L602.46,936.71 L602.96,937.41 L603.46,938.11 L603.96,938.82 L604.46,939.52 L604.96,940.22 L605.46,940.92 L605.96,941.63 L606.46,942.33 L606.96,943.04 L607.46,943.74 L607.96,944.45 L608.46,945.15 L608.96,945.86 L609.46,946.57 L609.96,947.27 L610.47,947.98 L610.97,948.69 L611.47,949.39 L611.97,950.10 L612.47,950.81 L612.97,951.51 L613.47,952.22 L613.97,952.93 L614.47,953.64 L614.97,954.34 L615.47,955.05 L615.97,955.76 L616.47,956.46 L616.97,957.17 L617.47,957.88 L617.97,958.59 L618.47,959.30 L618.97,960.00 L619.47,960.71 L619.97,961.42 L620.48,962.13 L620.98,962.85 L621.48,963.56 L621.98,964.27 L622.48,964.98 L622.98,965.69 L623.48,966.41 L623.98,967.12 L624.48,967.84 L624.98,968.55 L625.48,969.26 L625.98,969.98 L626.48,970.70 L626.98,971.41 L627.48,972.13 L627.98,972.84 L628.48,973.56 L628.98,974.28 L629.48,975.00 L629.99,975.71 L630.49,976.43 L630.99,977.15 L631.49,977.87 L631.99,978.59 L632.49,979.31 L654.82,979.31" fill="none" stroke="#fa0a0a" stroke-width="2.2" stroke-linejoin="round" stroke-linecap="butt"/>
<text transform="translate(387.75,1001.20) scale(0.8,1)" text-anchor="middle" font-family='"Liberation Sans", sans-serif' font-size="9.2" font-weight="normal" fill="#1a1a1a" stroke="#1a1a1a" stroke-width="0.35">-10</text>
<text transform="translate(410.54,1001.20) scale(0.8,1)" text-anchor="middle" font-family='"Liberation Sans", sans-serif' font-size="9.2" font-weight="normal" fill="#1a1a1a" stroke="#1a1a1a" stroke-width="0.35">0</text>
<text transform="translate(433.32,1001.20) scale(0.8,1)" text-anchor="middle" font-family='"Liberation Sans", sans-serif' font-size="9.2" font-weight="normal" fill="#1a1a1a" stroke="#1a1a1a" stroke-width="0.35">10</text>
<text transform="translate(456.11,1001.20) scale(0.8,1)" text-anchor="middle" font-family='"Liberation Sans", sans-serif' font-size="9.2" font-weight="normal" fill="#1a1a1a" stroke="#1a1a1a" stroke-width="0.35">20</text>
<text transform="translate(478.90,1001.20) scale(0.8,1)" text-anchor="middle" font-family='"Liberation Sans", sans-serif' font-size="9.2" font-weight="normal" fill="#1a1a1a" stroke="#1a1a1a" stroke-width="0.35">30</text>
<text transform="translate(501.69,1001.20) scale(0.8,1)" text-anchor="middle" font-family='"Liberation Sans", sans-serif' font-size="9.2" font-weight="normal" fill="#1a1a1a" stroke="#1a1a1a" stroke-width="0.35">40</text>
<text transform="translate(524.48,1001.20) scale(0.8,1)" text-anchor="middle" font-family='"Liberation Sans", sans-serif' font-size="9.2" font-weight="normal" fill="#1a1a1a" stroke="#1a1a1a" stroke-width="0.35">50</text>
<text transform="translate(547.26,1001.20) scale(0.8,1)" text-anchor="middle" font-family='"Liberation Sans", sans-serif' font-size="9.2" font-weight="normal" fill="#1a1a1a" stroke="#1a1a1a" stroke-width="0.35">60</text>
<text transform="translate(570.05,1001.20) scale(0.8,1)" text-anchor="middle" font-family='"Liberation Sans", sans-serif' font-size="9.2" font-weight="normal" fill="#1a1a1a" stroke="#1a1a1a" stroke-width="0.35">70</text>
<text transform="translate(592.84,1001.20) scale(0.8,1)" text-anchor="middle" font-family='"Liberation Sans", sans-serif' font-size="9.2" font-weight="normal" fill="#1a1a1a" stroke="#1a1a1a" stroke-width="0.35">80</text>
<text transform="translate(615.62,1001.20) scale(0.8,1)" text-anchor="middle" font-family='"Liberation Sans", sans-serif' font-size="9.2" font-weight="normal" fill="#1a1a1a" stroke="#1a1a1a" stroke-width="0.35">90</text>
<text transform="translate(638.41,1001.20) scale(0.8,1)" text-anchor="middle" font-family='"Liberation Sans", sans-serif' font-size="9.2" font-weight="normal" fill="#1a1a1a" stroke="#1a1a1a" stroke-width="0.35">100</text>
<text transform="translate(661.20,1001.20) scale(0.8,1)" text-anchor="middle" font-family='"Liberation Sans", sans-serif' font-size="9.2" font-weight="normal" fill="#1a1a1a" stroke="#1a1a1a" stroke-width="0.35">110</text>
<text transform="translate(372.60,990.70) scale(0.8,1)" text-anchor="end" font-family='"Liberation Sans", sans-serif' font-size="9.2" font-weight="normal" fill="#1a1a1a" stroke="#1a1a1a" stroke-width="0.35">0.30</text>
<text transform="translate(372.60,966.89) scale(0.8,1)" text-anchor="end" font-family='"Liberation Sans", sans-serif' font-size="9.2" font-weight="normal" fill="#1a1a1a" stroke="#1a1a1a" stroke-width="0.35">0.35</text>
<text transform="translate(372.60,943.09) scale(0.8,1)" text-anchor="end" font-family='"Liberation Sans", sans-serif' font-size="9.2" font-weight="normal" fill="#1a1a1a" stroke="#1a1a1a" stroke-width="0.35">0.40</text>
<text transform="translate(372.60,919.28) scale(0.8,1)" text-anchor="end" font-family='"Liberation Sans", sans-serif' font-size="9.2" font-weight="normal" fill="#1a1a1a" stroke="#1a1a1a" stroke-width="0.35">0.45</text>
<text transform="translate(372.60,895.48) scale(0.8,1)" text-anchor="end" font-family='"Liberation Sans", sans-serif' font-size="9.2" font-weight="normal" fill="#1a1a1a" stroke="#1a1a1a" stroke-width="0.35">0.50</text>
<text transform="translate(372.60,871.67) scale(0.8,1)" text-anchor="end" font-family='"Liberation Sans", sans-serif' font-size="9.2" font-weight="normal" fill="#1a1a1a" stroke="#1a1a1a" stroke-width="0.35">0.55</text>
<text transform="translate(372.60,847.87) scale(0.8,1)" text-anchor="end" font-family='"Liberation Sans", sans-serif' font-size="9.2" font-weight="normal" fill="#1a1a1a" stroke="#1a1a1a" stroke-width="0.35">0.60</text>
<text transform="translate(372.60,824.06) scale(0.8,1)" text-anchor="end" font-family='"Liberation Sans", sans-serif' font-size="9.2" font-weight="normal" fill="#1a1a1a" stroke="#1a1a1a" stroke-width="0.35">0.65</text>
<text transform="translate(372.60,800.26) scale(0.8,1)" text-anchor="end" font-family='"Liberation Sans", sans-serif' font-size="9.2" font-weight="normal" fill="#1a1a1a" stroke="#1a1a1a" stroke-width="0.35">0.70</text>
<text transform="translate(372.60,776.45) scale(0.8,1)" text-anchor="end" font-family='"Liberation Sans", sans-serif' font-size="9.2" font-weight="normal" fill="#1a1a1a" stroke="#1a1a1a" stroke-width="0.35">0.75</text>
<text x="150.80" y="1014.90" font-family='"Liberation Sans", sans-serif' font-size="8.7" font-weight="bold" fill="#000" stroke="#000" stroke-width="0.2" textLength="37.20" lengthAdjust="spacingAndGlyphs" >Soil type</text>
<text x="479.90" y="1015.10" font-family='"Liberation Sans", sans-serif' font-size="8.7" font-weight="bold" fill="#000" stroke="#000" stroke-width="0.2" textLength="24.20" lengthAdjust="spacingAndGlyphs" >Slope</text>
<text x="0" y="0" transform="translate(12.20,889.10) rotate(-90)" font-family='"Liberation Sans", sans-serif' font-size="9.2" font-weight="bold" fill="#000" stroke="#000" stroke-width="0.25" textLength="44.50" lengthAdjust="spacingAndGlyphs" >Suitability</text>
<text x="0" y="0" transform="translate(350.10,882.00) rotate(-90)" font-family='"Liberation Sans", sans-serif' font-size="9.2" font-weight="bold" fill="#000" stroke="#000" stroke-width="0.25" textLength="43.90" lengthAdjust="spacingAndGlyphs" >Suitability</text>
</g></svg>
</div></body></html>
